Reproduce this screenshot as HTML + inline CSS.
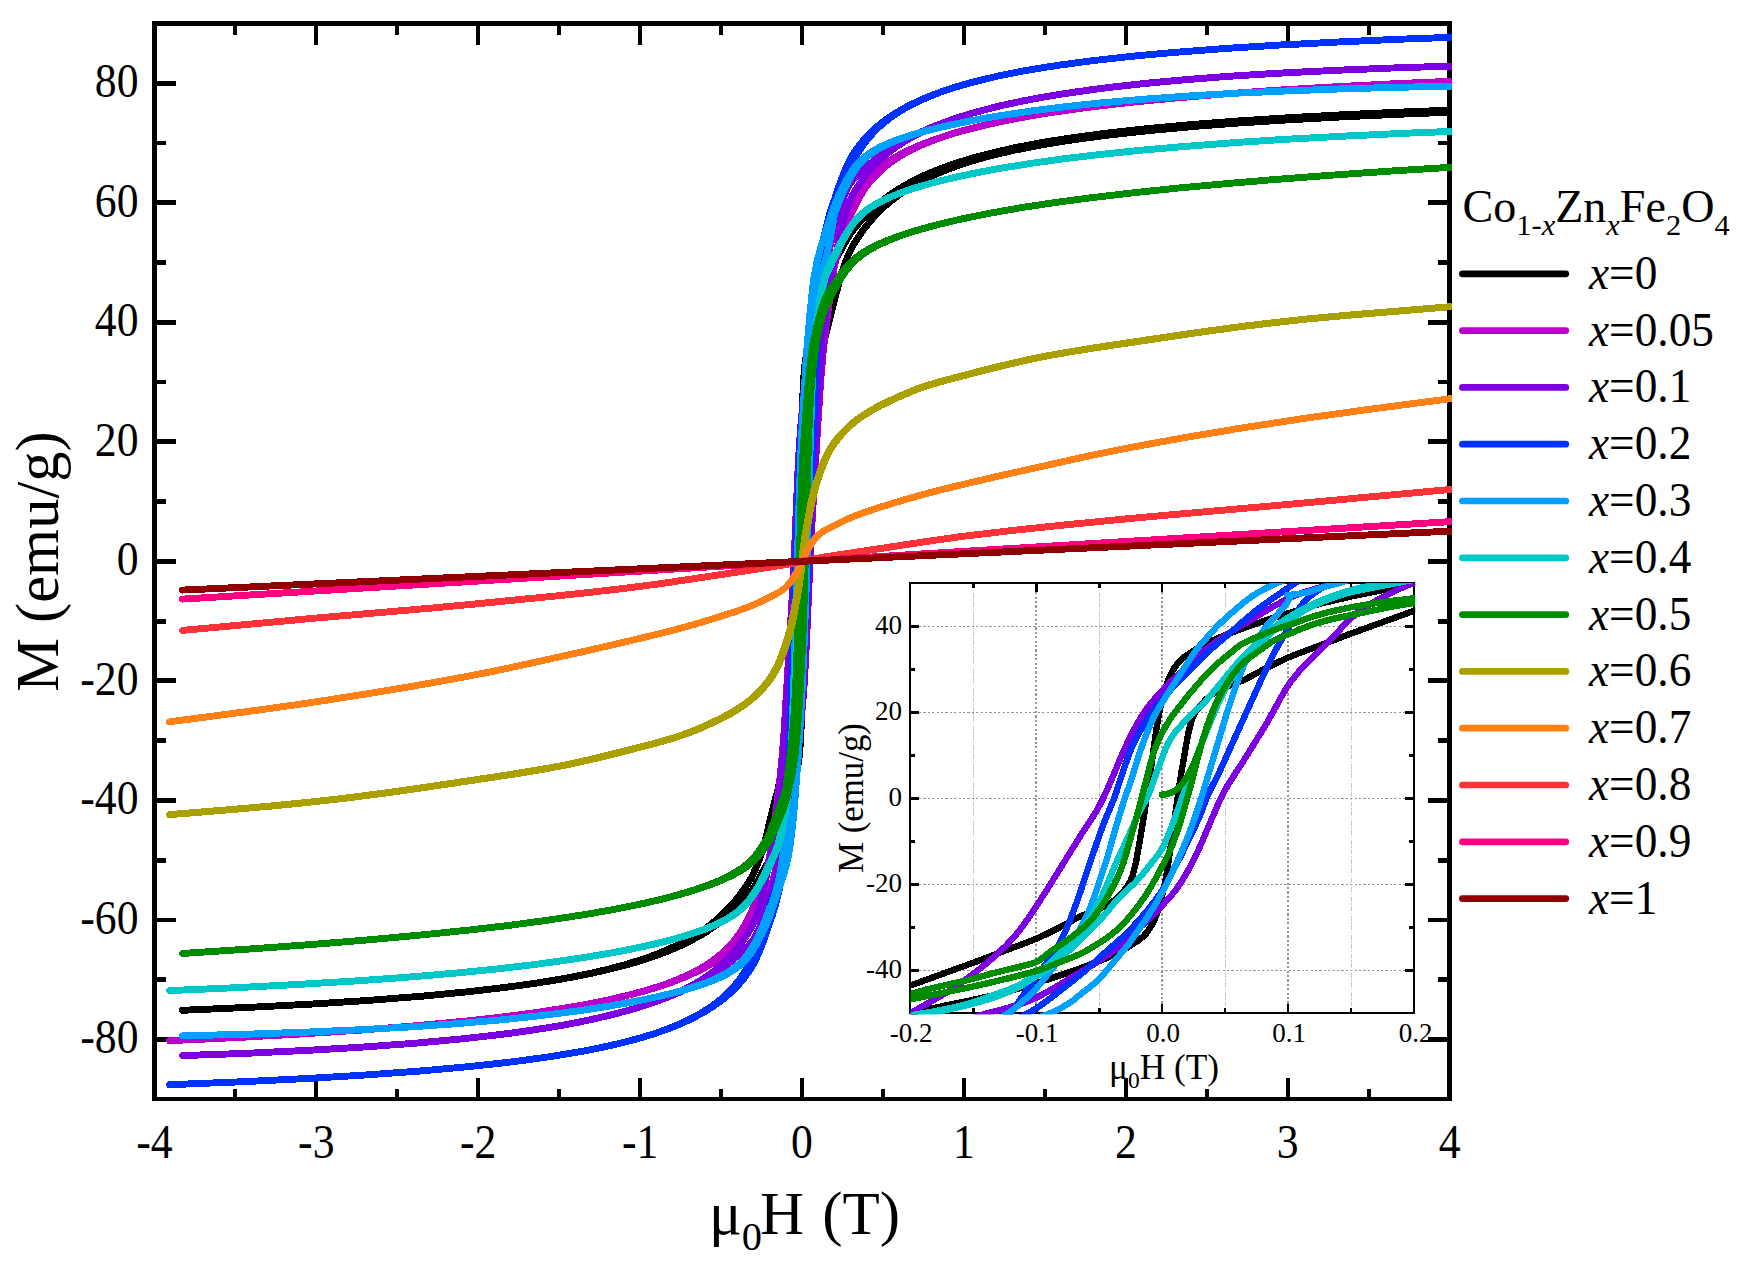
<!DOCTYPE html>
<html lang="en"><head><meta charset="utf-8"><title>M-H curves</title><style>html,body{margin:0;padding:0;background:#fff}svg{display:block}</style></head><body>
<svg width="1759" height="1276" viewBox="0 0 1759 1276">
<defs>
<clipPath id="cm"><rect x="152.1" y="21.1" width="1299.8" height="1079.6"/></clipPath>
<clipPath id="ci"><rect x="910.7" y="583.3" width="504.4" height="430.9"/></clipPath>
</defs>
<rect width="1759" height="1276" fill="#fff"/>
<g stroke="#000" fill="none" shape-rendering="crispEdges">
<path d="M154.5 1098.5V23.5H1449.5V1098.5" stroke-width="4.8" stroke-linecap="square"/>
<path d="M152.1 1099.0H1451.9" stroke-width="3.8"/>
<path d="M235.4 23.5V34.8M235.4 1099.0V1089.2M316.3 23.5V44.9M316.3 1099.0V1078.1M397.2 23.5V34.8M397.2 1099.0V1089.2M478.2 23.5V44.9M478.2 1099.0V1078.1M559.1 23.5V34.8M559.1 1099.0V1089.2M640.1 23.5V44.9M640.1 1099.0V1078.1M721.0 23.5V34.8M721.0 1099.0V1089.2M802.0 23.5V44.9M802.0 1099.0V1078.1M883.0 23.5V34.8M883.0 1099.0V1089.2M963.9 23.5V44.9M963.9 1099.0V1078.1M1044.8 23.5V34.8M1044.8 1099.0V1089.2M1125.8 23.5V44.9M1125.8 1099.0V1078.1M1206.8 23.5V34.8M1206.8 1099.0V1089.2M1287.7 23.5V44.9M1287.7 1099.0V1078.1M1368.7 23.5V34.8M1368.7 1099.0V1089.2" stroke-width="4"/>
<path d="M154.5 1039.4h21.4M1449.5 1039.4h-21.4M154.5 979.6h11.4M1449.5 979.6h-11.4M154.5 919.9h21.4M1449.5 919.9h-21.4M154.5 860.1h11.4M1449.5 860.1h-11.4M154.5 800.3h21.4M1449.5 800.3h-21.4M154.5 740.6h11.4M1449.5 740.6h-11.4M154.5 680.8h21.4M1449.5 680.8h-21.4M154.5 621.1h11.4M1449.5 621.1h-11.4M154.5 561.3h21.4M1449.5 561.3h-21.4M154.5 501.5h11.4M1449.5 501.5h-11.4M154.5 441.8h21.4M1449.5 441.8h-21.4M154.5 382.0h11.4M1449.5 382.0h-11.4M154.5 322.3h21.4M1449.5 322.3h-21.4M154.5 262.5h11.4M1449.5 262.5h-11.4M154.5 202.7h21.4M1449.5 202.7h-21.4M154.5 143.0h11.4M1449.5 143.0h-11.4M154.5 83.2h21.4M1449.5 83.2h-21.4" stroke-width="4.8"/>
</g>
<g fill="none" stroke-width="6.9" stroke-linecap="round" stroke-linejoin="round" clip-path="url(#cm)" shape-rendering="crispEdges">
<path stroke="#000000" d="M182.6 1010.3L252.4 1007.2L314.4 1003.9L368.7 1000.4L423.0 996.1L469.5 991.6L508.3 987.0L531.5 983.8L547.0 981.4L562.6 978.8L578.1 975.8L593.6 972.6L609.1 969.0L624.6 964.8L632.3 962.5L643.4 959.0L654.9 954.9L664.7 950.9L674.5 946.5L684.4 941.6L692.6 936.9L700.8 931.7L707.3 927.1L713.9 922.0L720.4 916.3L727.0 909.9L733.6 902.7L738.5 896.7L743.4 890.0L748.3 882.6L751.6 877.1L753.2 874.0L756.5 866.7L759.8 858.1L761.4 853.3L764.7 842.3L766.3 836.1L769.6 821.9L777.7 790.1L785.0 760.2L787.3 749.2L791.4 726.3L794.3 713.4L795.4 706.7L796.4 698.0L797.4 686.3L798.0 674.3L798.3 663.7L799.6 588.2L801.6 444.8L802.2 414.8L802.9 394.5L803.7 378.4L804.7 366.6L807.0 350.3L808.9 340.0L812.0 326.9L814.7 316.3L820.4 296.8L822.9 289.5L826.6 280.3L836.0 259.0L845.9 241.3L849.1 235.8L852.4 231.0L860.6 221.2L865.5 215.9L870.4 210.9L877.0 204.9L883.6 199.6L890.1 194.7L896.7 190.3L904.9 185.4L913.1 180.9L922.9 176.1L931.1 172.5L940.9 168.5L950.8 165.0L962.3 161.2L972.4 158.1L989.4 153.6L1014.9 147.7L1040.5 142.8L1057.5 140.0L1074.5 137.4L1108.5 132.9L1151.0 128.2L1193.6 124.4L1236.1 121.1L1287.2 117.8L1338.2 115.0L1397.7 112.2L1465.8 109.5M182.6 1010.3L252.4 1007.2L314.4 1003.9L368.7 1000.4L423.0 996.1L469.5 991.6L508.3 987.0L531.5 983.8L547.0 981.5L562.6 978.9L578.1 976.0L593.6 972.8L609.1 969.3L624.6 965.4L632.3 963.2L645.0 959.3L658.1 954.8L669.6 950.4L681.1 945.4L690.9 940.6L699.1 936.2L707.3 931.2L715.5 925.6L723.7 919.3L730.3 913.7L736.8 907.4L743.4 900.3L751.6 890.6L754.9 885.7L758.1 880.2L766.3 865.3L769.6 860.1L780.0 836.0L782.0 830.9L783.7 825.3L788.6 808.6L791.5 797.7L795.9 778.7L798.5 762.4L799.8 750.9L800.6 738.7L801.3 723.7L801.9 701.4L802.6 667.8L805.2 482.9L805.7 458.9L806.1 444.7L807.4 426.3L808.9 413.7L809.9 408.5L812.6 396.3L816.2 376.1L818.5 364.6L826.3 332.5L839.3 281.3L840.9 275.6L844.2 265.6L847.5 257.0L850.8 249.7L854.1 243.7L860.6 233.7L865.5 227.0L872.1 219.1L878.6 212.1L885.2 205.9L891.8 200.4L900.0 194.2L906.5 189.8L914.7 184.8L922.9 180.4L932.7 175.6L940.9 172.1L950.8 168.2L960.6 164.7L972.4 160.9L989.4 156.1L997.9 154.0L1014.9 150.1L1040.5 145.1L1057.5 142.2L1074.5 139.6L1108.5 135.1L1151.0 130.4L1193.6 126.5L1236.1 123.2L1287.2 119.9L1338.2 117.1L1397.7 114.3L1465.8 111.6" stroke-width="6" shape-rendering="geometricPrecision"/><path stroke="#000000" d="M182.6 1010.3L252.4 1007.2L314.4 1003.9L368.7 1000.4L423.0 996.1L469.5 991.6L508.3 987.0L531.5 983.8L547.0 981.4L562.6 978.8L578.1 975.8L593.6 972.6L609.1 969.0L624.6 964.8L632.3 962.5L643.4 959.0L654.9 954.9L664.7 950.9L674.5 946.5L684.4 941.6L692.6 936.9L700.8 931.7L707.3 927.1L713.9 922.0L720.4 916.3L727.0 909.9L733.6 902.7L738.5 896.7L743.4 890.0L748.3 882.6L751.6 877.1L753.2 874.0L756.5 866.7L759.8 858.1L761.4 853.3L764.7 842.3L766.3 836.1L769.6 821.9L777.7 790.1L785.0 760.2L787.3 749.2L791.4 726.3L794.3 713.4L795.4 706.7L796.4 698.0L797.4 686.3L798.0 674.3L798.3 663.7L799.6 588.2L801.6 444.8L802.2 414.8L802.9 394.5L803.7 378.4L804.7 366.6L807.0 350.3L808.9 340.0L812.0 326.9L814.7 316.3L820.4 296.8L822.9 289.5L826.6 280.3L836.0 259.0L845.9 241.3L849.1 235.8L852.4 231.0L860.6 221.2L865.5 215.9L870.4 210.9L877.0 204.9L883.6 199.6L890.1 194.7L896.7 190.3L904.9 185.4L913.1 180.9L922.9 176.1L931.1 172.5L940.9 168.5L950.8 165.0L962.3 161.2L972.4 158.1L989.4 153.6L1014.9 147.7L1040.5 142.8L1057.5 140.0L1074.5 137.4L1108.5 132.9L1151.0 128.2L1193.6 124.4L1236.1 121.1L1287.2 117.8L1338.2 115.0L1397.7 112.2L1465.8 109.5M182.6 1010.3L252.4 1007.2L314.4 1003.9L368.7 1000.4L423.0 996.1L469.5 991.6L508.3 987.0L531.5 983.8L547.0 981.5L562.6 978.9L578.1 976.0L593.6 972.8L609.1 969.3L624.6 965.4L632.3 963.2L645.0 959.3L658.1 954.8L669.6 950.4L681.1 945.4L690.9 940.6L699.1 936.2L707.3 931.2L715.5 925.6L723.7 919.3L730.3 913.7L736.8 907.4L743.4 900.3L751.6 890.6L754.9 885.7L758.1 880.2L766.3 865.3L769.6 860.1L780.0 836.0L782.0 830.9L783.7 825.3L788.6 808.6L791.5 797.7L795.9 778.7L798.5 762.4L799.8 750.9L800.6 738.7L801.3 723.7L801.9 701.4L802.6 667.8L805.2 482.9L805.7 458.9L806.1 444.7L807.4 426.3L808.9 413.7L809.9 408.5L812.6 396.3L816.2 376.1L818.5 364.6L826.3 332.5L839.3 281.3L840.9 275.6L844.2 265.6L847.5 257.0L850.8 249.7L854.1 243.7L860.6 233.7L865.5 227.0L872.1 219.1L878.6 212.1L885.2 205.9L891.8 200.4L900.0 194.2L906.5 189.8L914.7 184.8L922.9 180.4L932.7 175.6L940.9 172.1L950.8 168.2L960.6 164.7L972.4 160.9L989.4 156.1L997.9 154.0L1014.9 150.1L1040.5 145.1L1057.5 142.2L1074.5 139.6L1108.5 135.1L1151.0 130.4L1193.6 126.5L1236.1 123.2L1287.2 119.9L1338.2 117.1L1397.7 114.3L1465.8 111.6"/>
<path stroke="#B900CD" d="M169.6 1040.7L233.4 1037.7L297.2 1034.2L353.0 1030.6L408.8 1026.4L456.7 1022.0L480.6 1019.5L504.5 1016.7L528.5 1013.6L544.4 1011.3L576.3 1006.2L592.3 1003.2L608.2 999.9L632.1 994.3L645.0 990.7L656.5 987.2L668.0 983.3L677.8 979.5L687.6 975.1L695.8 971.1L704.0 966.4L710.6 962.1L717.2 957.3L723.7 951.7L728.6 946.8L733.6 941.3L738.5 934.9L741.7 930.0L745.0 924.5L748.3 918.2L751.6 911.1L756.5 898.9L759.8 889.8L763.1 879.8L766.3 869.0L769.6 857.1L771.4 841.8L774.3 823.6L776.6 807.1L779.5 782.6L782.1 756.7L783.6 738.3L785.5 708.3L793.5 574.4L797.7 475.4L799.2 447.9L800.5 429.2L803.7 393.3L806.3 367.7L807.9 353.5L810.8 332.5L815.6 302.7L817.8 289.7L819.0 284.4L820.3 279.6L822.0 274.1L824.3 267.9L825.8 263.0L834.4 229.6L839.3 219.7L845.9 207.4L850.8 198.9L855.7 191.4L859.0 187.0L863.9 181.3L868.8 176.4L873.7 172.0L880.3 166.9L886.8 162.3L893.4 158.3L901.6 153.7L909.8 149.7L918.0 146.0L927.8 142.1L937.7 138.5L949.1 134.7L960.6 131.3L972.4 128.1L980.9 126.0L997.9 122.2L1023.4 117.2L1040.5 114.2L1057.5 111.6L1091.5 106.9L1134.0 102.0L1176.6 97.9L1227.6 93.7L1278.6 90.1L1338.2 86.6L1397.7 83.6L1465.8 80.6M169.6 1040.7L241.4 1037.3L305.2 1033.7L361.0 1030.1L416.8 1025.7L464.7 1021.2L488.6 1018.6L512.5 1015.7L536.4 1012.5L552.4 1010.1L568.3 1007.6L584.3 1004.7L600.2 1001.6L616.2 998.2L632.1 994.3L641.7 991.8L653.2 988.4L664.7 984.7L676.2 980.5L686.0 976.6L695.8 972.1L704.0 968.0L712.2 963.3L720.4 958.1L727.0 953.2L733.6 947.7L740.1 941.3L745.0 935.6L749.9 928.8L756.5 918.1L763.1 906.1L769.6 893.0L778.4 859.1L779.7 854.7L783.4 844.1L785.5 836.1L788.6 818.9L793.3 789.0L795.3 775.3L797.4 757.9L800.8 724.3L803.2 697.4L804.5 680.0L806.6 640.2L810.7 545.2L817.8 424.8L820.9 377.6L823.0 353.9L825.9 327.3L829.2 302.4L832.6 280.8L834.4 265.5L839.3 248.1L842.6 237.7L845.9 228.2L849.1 219.5L852.4 211.5L855.7 204.4L859.0 198.1L862.3 192.6L865.5 187.7L868.8 183.3L872.1 179.4L875.4 175.8L880.3 170.9L885.2 166.6L890.1 162.8L896.7 158.3L903.2 154.3L909.8 150.7L918.0 146.7L926.2 143.1L936.0 139.3L945.9 135.9L955.7 132.8L963.9 130.5L980.9 126.1L1006.4 120.4L1032.0 115.7L1049.0 112.9L1066.0 110.3L1100.0 105.8L1142.5 101.1L1185.1 97.1L1227.6 93.7L1278.6 90.1L1338.2 86.6L1397.7 83.6L1465.8 80.6" stroke-width="6" shape-rendering="geometricPrecision"/><path stroke="#B900CD" d="M169.6 1040.7L233.4 1037.7L297.2 1034.2L353.0 1030.6L408.8 1026.4L456.7 1022.0L480.6 1019.5L504.5 1016.7L528.5 1013.6L544.4 1011.3L576.3 1006.2L592.3 1003.2L608.2 999.9L632.1 994.3L645.0 990.7L656.5 987.2L668.0 983.3L677.8 979.5L687.6 975.1L695.8 971.1L704.0 966.4L710.6 962.1L717.2 957.3L723.7 951.7L728.6 946.8L733.6 941.3L738.5 934.9L741.7 930.0L745.0 924.5L748.3 918.2L751.6 911.1L756.5 898.9L759.8 889.8L763.1 879.8L766.3 869.0L769.6 857.1L771.4 841.8L774.3 823.6L776.6 807.1L779.5 782.6L782.1 756.7L783.6 738.3L785.5 708.3L793.5 574.4L797.7 475.4L799.2 447.9L800.5 429.2L803.7 393.3L806.3 367.7L807.9 353.5L810.8 332.5L815.6 302.7L817.8 289.7L819.0 284.4L820.3 279.6L822.0 274.1L824.3 267.9L825.8 263.0L834.4 229.6L839.3 219.7L845.9 207.4L850.8 198.9L855.7 191.4L859.0 187.0L863.9 181.3L868.8 176.4L873.7 172.0L880.3 166.9L886.8 162.3L893.4 158.3L901.6 153.7L909.8 149.7L918.0 146.0L927.8 142.1L937.7 138.5L949.1 134.7L960.6 131.3L972.4 128.1L980.9 126.0L997.9 122.2L1023.4 117.2L1040.5 114.2L1057.5 111.6L1091.5 106.9L1134.0 102.0L1176.6 97.9L1227.6 93.7L1278.6 90.1L1338.2 86.6L1397.7 83.6L1465.8 80.6M169.6 1040.7L241.4 1037.3L305.2 1033.7L361.0 1030.1L416.8 1025.7L464.7 1021.2L488.6 1018.6L512.5 1015.7L536.4 1012.5L552.4 1010.1L568.3 1007.6L584.3 1004.7L600.2 1001.6L616.2 998.2L632.1 994.3L641.7 991.8L653.2 988.4L664.7 984.7L676.2 980.5L686.0 976.6L695.8 972.1L704.0 968.0L712.2 963.3L720.4 958.1L727.0 953.2L733.6 947.7L740.1 941.3L745.0 935.6L749.9 928.8L756.5 918.1L763.1 906.1L769.6 893.0L778.4 859.1L779.7 854.7L783.4 844.1L785.5 836.1L788.6 818.9L793.3 789.0L795.3 775.3L797.4 757.9L800.8 724.3L803.2 697.4L804.5 680.0L806.6 640.2L810.7 545.2L817.8 424.8L820.9 377.6L823.0 353.9L825.9 327.3L829.2 302.4L832.6 280.8L834.4 265.5L839.3 248.1L842.6 237.7L845.9 228.2L849.1 219.5L852.4 211.5L855.7 204.4L859.0 198.1L862.3 192.6L865.5 187.7L868.8 183.3L872.1 179.4L875.4 175.8L880.3 170.9L885.2 166.6L890.1 162.8L896.7 158.3L903.2 154.3L909.8 150.7L918.0 146.7L926.2 143.1L936.0 139.3L945.9 135.9L955.7 132.8L963.9 130.5L980.9 126.1L1006.4 120.4L1032.0 115.7L1049.0 112.9L1066.0 110.3L1100.0 105.8L1142.5 101.1L1185.1 97.1L1227.6 93.7L1278.6 90.1L1338.2 86.6L1397.7 83.6L1465.8 80.6"/>
<path stroke="#7D00E1" d="M182.6 1055.6L244.6 1053.4L306.6 1050.4L360.9 1047.2L415.2 1043.2L461.7 1038.9L485.0 1036.3L508.3 1033.5L531.5 1030.2L547.0 1027.8L562.6 1025.2L578.1 1022.3L593.6 1019.0L609.1 1015.4L624.6 1011.4L632.3 1009.2L645.0 1005.2L658.1 1000.6L669.6 996.1L679.4 991.8L689.3 986.9L697.5 982.3L705.7 977.1L713.9 971.3L720.4 965.9L727.0 959.9L733.6 952.9L738.5 947.0L741.7 942.6L745.0 937.7L748.3 932.7L751.6 926.9L754.9 919.5L756.5 915.0L759.8 904.3L761.4 898.2L764.7 884.4L769.6 860.1L774.3 831.2L777.9 804.2L780.5 781.0L782.8 756.9L784.1 739.5L786.2 706.0L793.8 574.6L798.0 473.6L799.5 445.6L800.6 428.6L803.5 394.9L807.9 352.0L811.0 328.9L817.5 287.8L818.8 280.9L820.1 275.6L822.2 268.7L825.3 259.8L829.7 242.8L837.7 215.1L842.6 200.1L845.9 191.9L849.1 185.3L850.8 182.7L854.1 178.6L865.5 167.5L875.4 159.2L883.6 153.2L891.8 147.7L900.0 142.8L908.2 138.3L918.0 133.4L927.8 128.9L937.7 124.9L949.1 120.6L960.6 116.7L972.4 113.2L980.9 110.8L997.9 106.4L1023.4 100.8L1040.5 97.6L1057.5 94.7L1091.5 89.7L1108.5 87.5L1134.0 84.6L1176.6 80.4L1227.6 76.4L1278.6 73.2L1338.2 70.2L1397.7 67.8L1465.8 65.6M182.6 1055.6L244.6 1053.4L306.6 1050.4L360.9 1047.2L415.2 1043.2L461.7 1038.9L485.0 1036.3L508.3 1033.5L531.5 1030.2L547.0 1027.8L562.6 1025.2L578.1 1022.3L593.6 1019.0L609.1 1015.4L624.6 1011.4L632.3 1009.2L646.7 1004.8L659.8 1000.2L671.3 995.8L682.7 990.8L692.6 986.0L702.4 980.8L712.2 974.9L720.4 969.4L728.6 963.4L736.8 956.6L743.4 950.5L749.9 944.0L751.6 942.1L753.2 939.9L756.5 934.2L759.8 926.8L763.1 917.8L766.3 907.5L772.9 885.0L778.9 862.3L781.8 853.9L784.2 845.8L785.9 838.5L788.3 824.2L793.3 791.5L796.1 770.6L798.0 752.5L801.3 719.0L803.2 696.1L804.4 679.8L806.5 638.2L810.2 548.0L814.7 469.9L817.7 414.2L818.8 395.7L820.3 377.3L826.3 311.1L828.2 295.4L830.6 280.2L837.7 245.3L840.9 230.6L844.2 217.9L845.9 212.4L849.1 202.8L850.8 198.8L852.4 195.4L855.7 189.7L862.3 179.9L867.2 173.4L872.1 167.7L878.6 161.0L883.6 156.6L890.1 151.3L896.7 146.5L904.9 141.3L913.1 136.6L921.3 132.4L931.1 127.9L940.9 123.8L950.8 120.2L962.3 116.3L972.4 113.2L989.4 108.6L997.9 106.4L1014.9 102.6L1040.5 97.6L1057.5 94.7L1074.5 92.1L1108.5 87.5L1151.0 82.8L1193.6 79.0L1236.1 75.8L1287.2 72.7L1338.2 70.2L1397.7 67.8L1465.8 65.6" stroke-width="6" shape-rendering="geometricPrecision"/><path stroke="#7D00E1" d="M182.6 1055.6L244.6 1053.4L306.6 1050.4L360.9 1047.2L415.2 1043.2L461.7 1038.9L485.0 1036.3L508.3 1033.5L531.5 1030.2L547.0 1027.8L562.6 1025.2L578.1 1022.3L593.6 1019.0L609.1 1015.4L624.6 1011.4L632.3 1009.2L645.0 1005.2L658.1 1000.6L669.6 996.1L679.4 991.8L689.3 986.9L697.5 982.3L705.7 977.1L713.9 971.3L720.4 965.9L727.0 959.9L733.6 952.9L738.5 947.0L741.7 942.6L745.0 937.7L748.3 932.7L751.6 926.9L754.9 919.5L756.5 915.0L759.8 904.3L761.4 898.2L764.7 884.4L769.6 860.1L774.3 831.2L777.9 804.2L780.5 781.0L782.8 756.9L784.1 739.5L786.2 706.0L793.8 574.6L798.0 473.6L799.5 445.6L800.6 428.6L803.5 394.9L807.9 352.0L811.0 328.9L817.5 287.8L818.8 280.9L820.1 275.6L822.2 268.7L825.3 259.8L829.7 242.8L837.7 215.1L842.6 200.1L845.9 191.9L849.1 185.3L850.8 182.7L854.1 178.6L865.5 167.5L875.4 159.2L883.6 153.2L891.8 147.7L900.0 142.8L908.2 138.3L918.0 133.4L927.8 128.9L937.7 124.9L949.1 120.6L960.6 116.7L972.4 113.2L980.9 110.8L997.9 106.4L1023.4 100.8L1040.5 97.6L1057.5 94.7L1091.5 89.7L1108.5 87.5L1134.0 84.6L1176.6 80.4L1227.6 76.4L1278.6 73.2L1338.2 70.2L1397.7 67.8L1465.8 65.6M182.6 1055.6L244.6 1053.4L306.6 1050.4L360.9 1047.2L415.2 1043.2L461.7 1038.9L485.0 1036.3L508.3 1033.5L531.5 1030.2L547.0 1027.8L562.6 1025.2L578.1 1022.3L593.6 1019.0L609.1 1015.4L624.6 1011.4L632.3 1009.2L646.7 1004.8L659.8 1000.2L671.3 995.8L682.7 990.8L692.6 986.0L702.4 980.8L712.2 974.9L720.4 969.4L728.6 963.4L736.8 956.6L743.4 950.5L749.9 944.0L751.6 942.1L753.2 939.9L756.5 934.2L759.8 926.8L763.1 917.8L766.3 907.5L772.9 885.0L778.9 862.3L781.8 853.9L784.2 845.8L785.9 838.5L788.3 824.2L793.3 791.5L796.1 770.6L798.0 752.5L801.3 719.0L803.2 696.1L804.4 679.8L806.5 638.2L810.2 548.0L814.7 469.9L817.7 414.2L818.8 395.7L820.3 377.3L826.3 311.1L828.2 295.4L830.6 280.2L837.7 245.3L840.9 230.6L844.2 217.9L845.9 212.4L849.1 202.8L850.8 198.8L852.4 195.4L855.7 189.7L862.3 179.9L867.2 173.4L872.1 167.7L878.6 161.0L883.6 156.6L890.1 151.3L896.7 146.5L904.9 141.3L913.1 136.6L921.3 132.4L931.1 127.9L940.9 123.8L950.8 120.2L962.3 116.3L972.4 113.2L989.4 108.6L997.9 106.4L1014.9 102.6L1040.5 97.6L1057.5 94.7L1074.5 92.1L1108.5 87.5L1151.0 82.8L1193.6 79.0L1236.1 75.8L1287.2 72.7L1338.2 70.2L1397.7 67.8L1465.8 65.6"/>
<path stroke="#0032FF" d="M169.6 1084.7L241.4 1081.8L305.2 1078.6L361.0 1075.3L416.8 1071.3L464.7 1067.0L488.6 1064.5L512.5 1061.8L536.4 1058.6L552.4 1056.3L568.3 1053.7L584.3 1050.9L600.2 1047.7L616.2 1044.2L632.1 1040.2L640.1 1038.0L651.6 1034.5L663.1 1030.6L674.5 1026.2L684.4 1021.9L694.2 1017.0L702.4 1012.3L710.6 1007.0L717.2 1002.2L723.7 996.7L730.3 990.3L735.2 984.8L740.1 978.6L745.0 971.3L749.9 962.9L753.2 956.3L758.1 944.0L761.4 934.3L764.7 923.4L769.6 904.9L771.6 900.4L773.7 894.5L779.7 874.5L781.3 867.6L782.6 859.2L788.1 776.5L789.3 753.6L790.9 710.4L794.0 612.3L795.8 564.0L797.9 497.4L798.8 474.7L800.3 448.1L803.4 407.2L807.9 357.7L814.1 300.2L819.4 260.0L821.6 248.1L824.0 236.3L826.8 224.8L829.8 213.4L832.1 206.0L834.4 199.8L839.3 185.0L842.6 176.2L845.9 168.3L849.1 161.3L852.4 155.2L855.7 150.2L860.6 143.6L865.5 137.8L870.4 132.6L875.4 128.1L880.3 123.9L886.8 118.9L893.4 114.5L901.6 109.5L909.8 105.1L918.0 101.2L927.8 96.9L937.7 93.1L949.1 89.1L960.6 85.5L972.4 82.2L980.9 80.1L997.9 76.1L1023.4 71.0L1040.5 68.1L1057.5 65.4L1091.5 60.8L1134.0 56.1L1176.6 52.2L1227.6 48.3L1278.6 45.1L1338.2 42.0L1397.7 39.3L1465.8 36.8M169.6 1084.7L241.4 1081.8L305.2 1078.6L361.0 1075.3L416.8 1071.3L464.7 1067.0L488.6 1064.5L512.5 1061.8L536.4 1058.6L552.4 1056.3L568.3 1053.7L584.3 1050.9L600.2 1047.7L616.2 1044.2L632.1 1040.2L641.7 1037.5L653.2 1034.0L664.7 1030.1L676.2 1025.7L686.0 1021.4L695.8 1016.6L704.0 1012.1L712.2 1007.0L720.4 1001.3L727.0 996.0L733.6 990.0L740.1 983.0L745.0 976.9L749.9 970.0L753.2 964.5L756.5 958.0L759.8 950.5L763.1 942.1L766.3 932.9L769.6 922.8L772.4 915.2L775.3 905.3L778.1 894.5L780.2 885.1L782.4 873.5L784.9 859.6L787.3 842.2L791.7 804.9L798.0 742.8L800.5 712.5L802.1 688.4L806.1 603.0L807.9 555.8L816.4 360.0L819.8 295.3L821.1 280.1L822.5 269.3L825.6 254.1L829.7 235.9L832.1 226.0L837.7 205.0L842.6 188.3L845.9 178.6L849.1 170.1L852.4 162.8L855.7 156.7L860.6 148.7L863.9 144.0L868.8 137.8L873.7 132.3L878.6 127.4L885.2 121.7L891.8 116.7L898.3 112.3L904.9 108.3L913.1 103.9L921.3 100.0L931.1 95.8L940.9 92.0L950.8 88.6L960.6 85.6L972.4 82.3L980.9 80.1L997.9 76.1L1023.4 71.0L1040.5 68.1L1057.5 65.4L1091.5 60.8L1134.0 56.1L1176.6 52.2L1227.6 48.3L1278.6 45.1L1338.2 42.0L1397.7 39.3L1465.8 36.8" stroke-width="6" shape-rendering="geometricPrecision"/><path stroke="#0032FF" d="M169.6 1084.7L241.4 1081.8L305.2 1078.6L361.0 1075.3L416.8 1071.3L464.7 1067.0L488.6 1064.5L512.5 1061.8L536.4 1058.6L552.4 1056.3L568.3 1053.7L584.3 1050.9L600.2 1047.7L616.2 1044.2L632.1 1040.2L640.1 1038.0L651.6 1034.5L663.1 1030.6L674.5 1026.2L684.4 1021.9L694.2 1017.0L702.4 1012.3L710.6 1007.0L717.2 1002.2L723.7 996.7L730.3 990.3L735.2 984.8L740.1 978.6L745.0 971.3L749.9 962.9L753.2 956.3L758.1 944.0L761.4 934.3L764.7 923.4L769.6 904.9L771.6 900.4L773.7 894.5L779.7 874.5L781.3 867.6L782.6 859.2L788.1 776.5L789.3 753.6L790.9 710.4L794.0 612.3L795.8 564.0L797.9 497.4L798.8 474.7L800.3 448.1L803.4 407.2L807.9 357.7L814.1 300.2L819.4 260.0L821.6 248.1L824.0 236.3L826.8 224.8L829.8 213.4L832.1 206.0L834.4 199.8L839.3 185.0L842.6 176.2L845.9 168.3L849.1 161.3L852.4 155.2L855.7 150.2L860.6 143.6L865.5 137.8L870.4 132.6L875.4 128.1L880.3 123.9L886.8 118.9L893.4 114.5L901.6 109.5L909.8 105.1L918.0 101.2L927.8 96.9L937.7 93.1L949.1 89.1L960.6 85.5L972.4 82.2L980.9 80.1L997.9 76.1L1023.4 71.0L1040.5 68.1L1057.5 65.4L1091.5 60.8L1134.0 56.1L1176.6 52.2L1227.6 48.3L1278.6 45.1L1338.2 42.0L1397.7 39.3L1465.8 36.8M169.6 1084.7L241.4 1081.8L305.2 1078.6L361.0 1075.3L416.8 1071.3L464.7 1067.0L488.6 1064.5L512.5 1061.8L536.4 1058.6L552.4 1056.3L568.3 1053.7L584.3 1050.9L600.2 1047.7L616.2 1044.2L632.1 1040.2L641.7 1037.5L653.2 1034.0L664.7 1030.1L676.2 1025.7L686.0 1021.4L695.8 1016.6L704.0 1012.1L712.2 1007.0L720.4 1001.3L727.0 996.0L733.6 990.0L740.1 983.0L745.0 976.9L749.9 970.0L753.2 964.5L756.5 958.0L759.8 950.5L763.1 942.1L766.3 932.9L769.6 922.8L772.4 915.2L775.3 905.3L778.1 894.5L780.2 885.1L782.4 873.5L784.9 859.6L787.3 842.2L791.7 804.9L798.0 742.8L800.5 712.5L802.1 688.4L806.1 603.0L807.9 555.8L816.4 360.0L819.8 295.3L821.1 280.1L822.5 269.3L825.6 254.1L829.7 235.9L832.1 226.0L837.7 205.0L842.6 188.3L845.9 178.6L849.1 170.1L852.4 162.8L855.7 156.7L860.6 148.7L863.9 144.0L868.8 137.8L873.7 132.3L878.6 127.4L885.2 121.7L891.8 116.7L898.3 112.3L904.9 108.3L913.1 103.9L921.3 100.0L931.1 95.8L940.9 92.0L950.8 88.6L960.6 85.6L972.4 82.3L980.9 80.1L997.9 76.1L1023.4 71.0L1040.5 68.1L1057.5 65.4L1091.5 60.8L1134.0 56.1L1176.6 52.2L1227.6 48.3L1278.6 45.1L1338.2 42.0L1397.7 39.3L1465.8 36.8"/>
<path stroke="#00A0FF" d="M182.6 1035.8L244.6 1034.3L306.6 1032.1L360.9 1029.7L407.5 1027.1L454.0 1023.9L500.5 1019.9L539.3 1015.8L578.1 1010.9L601.3 1007.4L616.8 1004.8L645.0 999.4L659.8 996.2L672.9 993.0L684.4 989.8L695.8 986.3L705.7 982.8L713.9 979.5L720.4 976.4L727.0 972.8L733.6 968.5L738.5 964.5L743.4 959.7L746.7 955.8L751.6 948.5L754.9 942.7L758.1 936.2L763.1 925.2L766.3 916.9L769.6 907.9L771.6 904.2L773.7 898.4L777.9 883.3L780.3 871.7L782.6 857.4L784.7 838.0L786.2 821.5L789.4 776.9L791.0 750.9L792.3 724.4L794.6 655.7L799.2 496.9L801.3 441.4L805.8 364.5L807.0 348.0L809.9 314.0L812.8 286.8L813.9 278.0L816.9 261.9L820.3 248.8L829.8 218.7L834.4 205.7L836.0 201.8L840.9 190.9L844.2 184.3L847.5 178.3L852.4 170.3L855.7 165.8L859.0 162.0L862.3 158.8L867.2 154.8L872.1 151.5L878.6 147.7L885.2 144.6L893.4 141.2L903.2 137.7L913.1 134.5L924.6 131.3L937.7 127.9L950.8 124.9L963.9 122.1L980.9 118.9L997.9 116.0L1032.0 110.9L1066.0 106.6L1100.0 103.0L1142.5 99.3L1185.1 96.2L1236.1 93.2L1287.2 90.9L1346.7 88.7L1406.2 87.1L1465.8 86.0M182.6 1035.8L244.6 1034.3L306.6 1032.1L360.9 1029.7L407.5 1027.1L454.0 1023.9L500.5 1019.9L539.3 1015.8L578.1 1010.9L609.1 1006.1L624.6 1003.4L643.4 999.8L658.1 996.6L671.3 993.5L684.4 990.0L695.8 986.6L705.7 983.2L713.9 980.1L722.1 976.5L728.6 973.1L735.2 969.0L740.1 965.3L745.0 960.6L748.3 956.8L751.6 952.3L756.5 944.3L761.4 935.1L766.3 924.6L769.6 916.9L771.1 912.7L782.1 879.7L785.8 867.4L788.4 856.4L790.3 844.4L793.3 819.0L794.7 802.6L797.7 764.4L800.6 718.1L802.6 680.5L804.5 635.0L806.1 590.9L810.4 439.4L812.3 383.3L815.0 328.5L818.1 288.2L818.5 281.0L818.1 278.6L818.8 278.3L819.4 277.6L820.6 275.4L822.5 268.5L825.2 260.7L827.6 251.1L829.9 240.4L832.2 228.0L834.4 214.7L837.7 205.7L840.9 197.4L844.2 189.9L847.5 183.1L852.4 174.1L855.7 169.0L859.0 164.7L862.3 161.1L865.5 158.1L870.4 154.1L875.4 150.8L881.9 147.0L888.5 143.9L896.7 140.4L906.5 136.9L916.4 133.7L927.8 130.5L939.3 127.6L963.9 122.2L980.9 118.9L997.9 116.0L1032.0 110.9L1066.0 106.6L1100.0 103.0L1142.5 99.3L1185.1 96.2L1236.1 93.2L1287.2 90.9L1346.7 88.7L1406.2 87.1L1465.8 86.0" stroke-width="6" shape-rendering="geometricPrecision"/><path stroke="#00A0FF" d="M182.6 1035.8L244.6 1034.3L306.6 1032.1L360.9 1029.7L407.5 1027.1L454.0 1023.9L500.5 1019.9L539.3 1015.8L578.1 1010.9L601.3 1007.4L616.8 1004.8L645.0 999.4L659.8 996.2L672.9 993.0L684.4 989.8L695.8 986.3L705.7 982.8L713.9 979.5L720.4 976.4L727.0 972.8L733.6 968.5L738.5 964.5L743.4 959.7L746.7 955.8L751.6 948.5L754.9 942.7L758.1 936.2L763.1 925.2L766.3 916.9L769.6 907.9L771.6 904.2L773.7 898.4L777.9 883.3L780.3 871.7L782.6 857.4L784.7 838.0L786.2 821.5L789.4 776.9L791.0 750.9L792.3 724.4L794.6 655.7L799.2 496.9L801.3 441.4L805.8 364.5L807.0 348.0L809.9 314.0L812.8 286.8L813.9 278.0L816.9 261.9L820.3 248.8L829.8 218.7L834.4 205.7L836.0 201.8L840.9 190.9L844.2 184.3L847.5 178.3L852.4 170.3L855.7 165.8L859.0 162.0L862.3 158.8L867.2 154.8L872.1 151.5L878.6 147.7L885.2 144.6L893.4 141.2L903.2 137.7L913.1 134.5L924.6 131.3L937.7 127.9L950.8 124.9L963.9 122.1L980.9 118.9L997.9 116.0L1032.0 110.9L1066.0 106.6L1100.0 103.0L1142.5 99.3L1185.1 96.2L1236.1 93.2L1287.2 90.9L1346.7 88.7L1406.2 87.1L1465.8 86.0M182.6 1035.8L244.6 1034.3L306.6 1032.1L360.9 1029.7L407.5 1027.1L454.0 1023.9L500.5 1019.9L539.3 1015.8L578.1 1010.9L609.1 1006.1L624.6 1003.4L643.4 999.8L658.1 996.6L671.3 993.5L684.4 990.0L695.8 986.6L705.7 983.2L713.9 980.1L722.1 976.5L728.6 973.1L735.2 969.0L740.1 965.3L745.0 960.6L748.3 956.8L751.6 952.3L756.5 944.3L761.4 935.1L766.3 924.6L769.6 916.9L771.1 912.7L782.1 879.7L785.8 867.4L788.4 856.4L790.3 844.4L793.3 819.0L794.7 802.6L797.7 764.4L800.6 718.1L802.6 680.5L804.5 635.0L806.1 590.9L810.4 439.4L812.3 383.3L815.0 328.5L818.1 288.2L818.5 281.0L818.1 278.6L818.8 278.3L819.4 277.6L820.6 275.4L822.5 268.5L825.2 260.7L827.6 251.1L829.9 240.4L832.2 228.0L834.4 214.7L837.7 205.7L840.9 197.4L844.2 189.9L847.5 183.1L852.4 174.1L855.7 169.0L859.0 164.7L862.3 161.1L865.5 158.1L870.4 154.1L875.4 150.8L881.9 147.0L888.5 143.9L896.7 140.4L906.5 136.9L916.4 133.7L927.8 130.5L939.3 127.6L963.9 122.2L980.9 118.9L997.9 116.0L1032.0 110.9L1066.0 106.6L1100.0 103.0L1142.5 99.3L1185.1 96.2L1236.1 93.2L1287.2 90.9L1346.7 88.7L1406.2 87.1L1465.8 86.0"/>
<path stroke="#00C8C8" d="M169.6 990.6L233.4 987.8L297.2 984.5L353.0 981.1L408.8 977.1L456.7 973.0L496.6 969.0L536.4 964.3L576.3 958.7L608.2 953.5L624.2 950.5L641.7 946.9L656.5 943.5L669.6 940.2L681.1 937.0L692.6 933.4L702.4 930.0L710.6 926.7L718.8 923.1L725.4 919.7L731.9 915.7L736.8 912.2L741.7 908.1L746.7 903.0L749.9 898.9L753.2 894.2L756.5 889.0L759.8 883.3L764.7 873.8L769.6 863.1L773.2 856.7L775.3 851.9L778.1 843.8L782.6 826.0L784.2 817.3L786.2 803.3L788.1 784.6L790.9 753.7L792.3 733.2L793.6 710.3L798.8 586.3L800.3 555.6L802.6 489.7L803.4 473.9L804.7 457.6L807.8 424.5L812.0 369.5L814.7 339.3L816.9 319.8L820.3 297.3L821.9 289.1L823.5 282.0L825.5 274.7L827.1 269.9L829.3 264.6L832.6 258.9L840.9 242.4L844.2 236.7L849.1 228.9L852.4 224.2L855.7 220.0L859.0 216.5L862.3 213.4L865.5 210.7L870.4 207.2L877.0 203.3L883.6 199.9L891.8 196.3L900.0 193.1L909.8 189.6L919.6 186.5L931.1 183.3L942.6 180.3L957.3 176.8L972.4 173.6L997.9 168.7L1032.0 163.2L1066.0 158.5L1100.0 154.5L1142.5 150.1L1185.1 146.4L1236.1 142.5L1287.2 139.2L1346.7 136.0L1406.2 133.2L1465.8 130.8M169.6 990.6L233.4 987.8L297.2 984.5L353.0 981.1L408.8 977.1L456.7 973.0L496.6 969.0L536.4 964.3L576.3 958.7L608.2 953.5L624.2 950.5L640.1 947.2L654.9 943.9L668.0 940.6L679.4 937.5L690.9 934.0L700.8 930.7L710.6 926.9L718.8 923.3L725.4 920.0L731.9 916.2L736.8 912.8L741.7 908.9L746.7 904.0L749.9 900.1L753.2 895.6L758.1 887.9L761.4 882.3L766.3 872.9L770.4 864.4L776.4 850.4L779.8 840.2L782.6 829.1L784.1 821.0L787.5 797.6L790.4 769.6L794.3 727.2L796.1 704.6L799.0 673.2L801.4 640.6L802.2 626.3L803.2 601.4L806.6 497.6L808.6 445.9L810.7 398.7L813.0 365.5L816.0 331.4L817.0 323.2L820.7 297.6L823.3 285.0L825.0 279.0L826.6 274.3L837.7 250.7L842.6 241.1L845.9 235.4L849.1 230.1L852.4 225.2L855.7 220.9L859.0 217.2L862.3 214.0L865.5 211.3L870.4 207.7L877.0 203.6L883.6 200.2L890.1 197.1L898.3 193.8L908.2 190.2L918.0 187.1L929.5 183.7L940.9 180.7L963.9 175.4L980.9 171.9L997.9 168.7L1032.0 163.2L1066.0 158.5L1100.0 154.5L1142.5 150.1L1185.1 146.4L1236.1 142.5L1287.2 139.2L1346.7 136.0L1406.2 133.2L1465.8 130.8" stroke-width="6" shape-rendering="geometricPrecision"/><path stroke="#00C8C8" d="M169.6 990.6L233.4 987.8L297.2 984.5L353.0 981.1L408.8 977.1L456.7 973.0L496.6 969.0L536.4 964.3L576.3 958.7L608.2 953.5L624.2 950.5L641.7 946.9L656.5 943.5L669.6 940.2L681.1 937.0L692.6 933.4L702.4 930.0L710.6 926.7L718.8 923.1L725.4 919.7L731.9 915.7L736.8 912.2L741.7 908.1L746.7 903.0L749.9 898.9L753.2 894.2L756.5 889.0L759.8 883.3L764.7 873.8L769.6 863.1L773.2 856.7L775.3 851.9L778.1 843.8L782.6 826.0L784.2 817.3L786.2 803.3L788.1 784.6L790.9 753.7L792.3 733.2L793.6 710.3L798.8 586.3L800.3 555.6L802.6 489.7L803.4 473.9L804.7 457.6L807.8 424.5L812.0 369.5L814.7 339.3L816.9 319.8L820.3 297.3L821.9 289.1L823.5 282.0L825.5 274.7L827.1 269.9L829.3 264.6L832.6 258.9L840.9 242.4L844.2 236.7L849.1 228.9L852.4 224.2L855.7 220.0L859.0 216.5L862.3 213.4L865.5 210.7L870.4 207.2L877.0 203.3L883.6 199.9L891.8 196.3L900.0 193.1L909.8 189.6L919.6 186.5L931.1 183.3L942.6 180.3L957.3 176.8L972.4 173.6L997.9 168.7L1032.0 163.2L1066.0 158.5L1100.0 154.5L1142.5 150.1L1185.1 146.4L1236.1 142.5L1287.2 139.2L1346.7 136.0L1406.2 133.2L1465.8 130.8M169.6 990.6L233.4 987.8L297.2 984.5L353.0 981.1L408.8 977.1L456.7 973.0L496.6 969.0L536.4 964.3L576.3 958.7L608.2 953.5L624.2 950.5L640.1 947.2L654.9 943.9L668.0 940.6L679.4 937.5L690.9 934.0L700.8 930.7L710.6 926.9L718.8 923.3L725.4 920.0L731.9 916.2L736.8 912.8L741.7 908.9L746.7 904.0L749.9 900.1L753.2 895.6L758.1 887.9L761.4 882.3L766.3 872.9L770.4 864.4L776.4 850.4L779.8 840.2L782.6 829.1L784.1 821.0L787.5 797.6L790.4 769.6L794.3 727.2L796.1 704.6L799.0 673.2L801.4 640.6L802.2 626.3L803.2 601.4L806.6 497.6L808.6 445.9L810.7 398.7L813.0 365.5L816.0 331.4L817.0 323.2L820.7 297.6L823.3 285.0L825.0 279.0L826.6 274.3L837.7 250.7L842.6 241.1L845.9 235.4L849.1 230.1L852.4 225.2L855.7 220.9L859.0 217.2L862.3 214.0L865.5 211.3L870.4 207.7L877.0 203.6L883.6 200.2L890.1 197.1L898.3 193.8L908.2 190.2L918.0 187.1L929.5 183.7L940.9 180.7L963.9 175.4L980.9 171.9L997.9 168.7L1032.0 163.2L1066.0 158.5L1100.0 154.5L1142.5 150.1L1185.1 146.4L1236.1 142.5L1287.2 139.2L1346.7 136.0L1406.2 133.2L1465.8 130.8"/>
<path stroke="#008C00" d="M182.6 953.5L252.4 948.8L314.4 944.3L368.7 939.8L423.0 934.8L469.5 930.0L508.3 925.5L547.0 920.3L585.8 914.4L616.8 908.9L632.3 905.8L648.3 902.3L661.4 899.2L674.5 895.8L686.0 892.5L695.8 889.4L705.7 886.0L715.5 882.2L723.7 878.6L730.3 875.2L736.8 871.4L741.7 868.2L746.7 864.3L751.6 859.8L754.9 856.2L759.8 849.8L764.7 842.4L768.0 836.8L769.6 833.8L772.1 826.3L777.7 812.2L780.5 804.0L784.7 792.9L785.9 788.8L790.7 751.5L792.5 734.8L793.5 723.2L795.1 696.1L796.4 668.6L797.4 639.2L800.8 502.3L802.4 462.4L804.2 434.3L807.6 390.5L809.5 370.3L811.7 351.5L812.6 345.0L816.2 328.1L821.2 309.4L824.2 300.7L825.9 296.7L827.9 292.9L830.8 288.1L834.4 283.4L840.9 273.7L844.2 269.4L847.5 265.5L850.8 262.1L854.1 259.1L859.0 255.2L863.9 252.0L870.4 248.2L877.0 244.9L885.2 241.3L893.4 238.1L903.2 234.6L913.1 231.5L924.6 228.1L936.0 225.0L960.6 219.2L989.4 213.3L1023.4 207.3L1057.5 202.2L1091.5 197.7L1134.0 192.7L1176.6 188.2L1227.6 183.5L1278.6 179.2L1338.2 174.7L1397.7 170.6L1465.8 166.4M182.6 953.5L252.4 948.8L314.4 944.3L368.7 939.8L423.0 934.8L469.5 930.0L508.3 925.5L547.0 920.3L585.8 914.4L616.8 908.9L632.3 905.8L648.3 902.4L661.4 899.3L674.5 895.9L686.0 892.7L697.5 889.1L707.3 885.8L717.2 882.1L725.4 878.6L733.6 874.7L740.1 871.1L745.0 867.9L749.9 864.2L754.9 859.7L758.1 856.2L761.4 852.3L764.7 848.1L769.6 841.0L777.6 823.4L783.4 808.6L786.3 799.7L791.2 779.1L793.8 763.3L795.3 752.6L797.4 731.5L799.5 702.7L800.9 677.7L802.9 637.1L804.4 594.2L807.6 466.6L808.6 438.3L809.7 413.1L811.0 390.9L812.3 374.7L813.6 362.9L816.5 341.4L820.4 323.6L822.0 317.7L823.5 313.1L831.3 295.6L837.7 284.0L840.9 278.5L844.2 273.5L849.1 267.0L852.4 263.3L855.7 260.1L860.6 256.0L863.9 253.6L868.8 250.4L875.4 246.7L881.9 243.4L890.1 239.8L898.3 236.6L908.2 233.2L918.0 230.1L939.3 224.2L962.3 218.8L989.4 213.3L1023.4 207.3L1057.5 202.2L1091.5 197.7L1134.0 192.7L1176.6 188.2L1227.6 183.5L1278.6 179.2L1338.2 174.7L1397.7 170.6L1465.8 166.4M802.0 556.5L802.5 555.9L803.1 554.1L803.8 550.1L804.6 541.7L805.3 530.5L806.7 497.3L808.9 430.4" stroke-width="6" shape-rendering="geometricPrecision"/><path stroke="#008C00" d="M182.6 953.5L252.4 948.8L314.4 944.3L368.7 939.8L423.0 934.8L469.5 930.0L508.3 925.5L547.0 920.3L585.8 914.4L616.8 908.9L632.3 905.8L648.3 902.3L661.4 899.2L674.5 895.8L686.0 892.5L695.8 889.4L705.7 886.0L715.5 882.2L723.7 878.6L730.3 875.2L736.8 871.4L741.7 868.2L746.7 864.3L751.6 859.8L754.9 856.2L759.8 849.8L764.7 842.4L768.0 836.8L769.6 833.8L772.1 826.3L777.7 812.2L780.5 804.0L784.7 792.9L785.9 788.8L790.7 751.5L792.5 734.8L793.5 723.2L795.1 696.1L796.4 668.6L797.4 639.2L800.8 502.3L802.4 462.4L804.2 434.3L807.6 390.5L809.5 370.3L811.7 351.5L812.6 345.0L816.2 328.1L821.2 309.4L824.2 300.7L825.9 296.7L827.9 292.9L830.8 288.1L834.4 283.4L840.9 273.7L844.2 269.4L847.5 265.5L850.8 262.1L854.1 259.1L859.0 255.2L863.9 252.0L870.4 248.2L877.0 244.9L885.2 241.3L893.4 238.1L903.2 234.6L913.1 231.5L924.6 228.1L936.0 225.0L960.6 219.2L989.4 213.3L1023.4 207.3L1057.5 202.2L1091.5 197.7L1134.0 192.7L1176.6 188.2L1227.6 183.5L1278.6 179.2L1338.2 174.7L1397.7 170.6L1465.8 166.4M182.6 953.5L252.4 948.8L314.4 944.3L368.7 939.8L423.0 934.8L469.5 930.0L508.3 925.5L547.0 920.3L585.8 914.4L616.8 908.9L632.3 905.8L648.3 902.4L661.4 899.3L674.5 895.9L686.0 892.7L697.5 889.1L707.3 885.8L717.2 882.1L725.4 878.6L733.6 874.7L740.1 871.1L745.0 867.9L749.9 864.2L754.9 859.7L758.1 856.2L761.4 852.3L764.7 848.1L769.6 841.0L777.6 823.4L783.4 808.6L786.3 799.7L791.2 779.1L793.8 763.3L795.3 752.6L797.4 731.5L799.5 702.7L800.9 677.7L802.9 637.1L804.4 594.2L807.6 466.6L808.6 438.3L809.7 413.1L811.0 390.9L812.3 374.7L813.6 362.9L816.5 341.4L820.4 323.6L822.0 317.7L823.5 313.1L831.3 295.6L837.7 284.0L840.9 278.5L844.2 273.5L849.1 267.0L852.4 263.3L855.7 260.1L860.6 256.0L863.9 253.6L868.8 250.4L875.4 246.7L881.9 243.4L890.1 239.8L898.3 236.6L908.2 233.2L918.0 230.1L939.3 224.2L962.3 218.8L989.4 213.3L1023.4 207.3L1057.5 202.2L1091.5 197.7L1134.0 192.7L1176.6 188.2L1227.6 183.5L1278.6 179.2L1338.2 174.7L1397.7 170.6L1465.8 166.4M802.0 556.5L802.5 555.9L803.1 554.1L803.8 550.1L804.6 541.7L805.3 530.5L806.7 497.3L808.9 430.4"/>
<path stroke="#AAA000" d="M169.6 814.6L232.4 809.4L274.3 805.7L309.2 802.2L344.1 798.3L386.0 792.8L427.9 786.9L511.6 774.3L546.5 768.5L567.5 764.5L595.4 758.3L616.3 753.1L651.2 744.2L672.2 738.3L686.1 733.6L700.1 728.0L707.1 724.9L721.0 718.2L730.8 713.1L740.5 707.0L748.7 701.1L755.7 695.0L762.2 688.3L768.7 680.2L773.0 673.7L775.7 668.8L777.9 664.5L781.7 655.3L784.9 646.1L788.2 635.7L790.4 627.7L792.5 618.2L796.9 594.3L798.5 584.4L805.0 535.3L809.9 507.8L811.5 499.9L815.3 485.4L819.6 472.1L823.9 460.8L826.1 456.1L828.8 451.0L831.5 446.5L834.2 442.5L838.0 437.6L841.8 433.2L845.6 429.3L849.9 425.2L854.3 421.5L858.6 418.3L868.3 411.8L879.2 405.8L897.7 396.9L912.4 390.7L919.7 387.9L927.1 385.4L941.8 381.1L978.6 371.5L1008.0 364.2L1030.1 359.2L1044.8 356.2L1066.9 352.3L1096.3 347.5L1169.9 336.5L1206.7 331.2L1243.5 326.2L1272.9 322.7L1309.7 318.7L1346.5 315.3L1464.2 305.5M169.6 814.7L232.4 809.5L274.3 805.8L309.2 802.3L344.1 798.4L386.0 793.0L427.9 787.0L511.6 774.5L546.5 768.7L567.5 764.7L595.4 758.5L616.3 753.4L651.2 744.4L672.2 738.6L686.1 734.0L700.1 728.4L707.1 725.3L721.0 718.7L731.9 713.0L741.6 707.0L749.7 701.1L756.8 694.9L763.3 688.2L769.8 680.1L774.1 673.5L776.8 668.6L779.0 664.2L782.8 655.0L786.6 644.1L789.3 635.3L791.4 627.2L793.6 617.7L797.9 593.7L799.6 583.7L806.1 534.6L810.9 507.2L812.6 499.4L816.3 485.0L821.2 470.2L825.6 459.3L829.9 450.8L832.6 446.3L835.3 442.4L839.1 437.5L842.9 433.1L846.7 429.2L851.0 425.1L855.3 421.5L859.7 418.2L869.4 411.8L879.7 406.0L897.7 397.4L912.4 391.1L919.7 388.3L927.1 385.7L941.8 381.4L978.6 371.8L1008.0 364.5L1030.1 359.4L1044.8 356.4L1066.9 352.4L1089.0 348.8L1199.3 332.4L1236.1 327.3L1272.9 322.8L1309.7 318.8L1346.5 315.4L1464.2 305.6" stroke-width="6" shape-rendering="geometricPrecision"/><path stroke="#AAA000" d="M169.6 814.6L232.4 809.4L274.3 805.7L309.2 802.2L344.1 798.3L386.0 792.8L427.9 786.9L511.6 774.3L546.5 768.5L567.5 764.5L595.4 758.3L616.3 753.1L651.2 744.2L672.2 738.3L686.1 733.6L700.1 728.0L707.1 724.9L721.0 718.2L730.8 713.1L740.5 707.0L748.7 701.1L755.7 695.0L762.2 688.3L768.7 680.2L773.0 673.7L775.7 668.8L777.9 664.5L781.7 655.3L784.9 646.1L788.2 635.7L790.4 627.7L792.5 618.2L796.9 594.3L798.5 584.4L805.0 535.3L809.9 507.8L811.5 499.9L815.3 485.4L819.6 472.1L823.9 460.8L826.1 456.1L828.8 451.0L831.5 446.5L834.2 442.5L838.0 437.6L841.8 433.2L845.6 429.3L849.9 425.2L854.3 421.5L858.6 418.3L868.3 411.8L879.2 405.8L897.7 396.9L912.4 390.7L919.7 387.9L927.1 385.4L941.8 381.1L978.6 371.5L1008.0 364.2L1030.1 359.2L1044.8 356.2L1066.9 352.3L1096.3 347.5L1169.9 336.5L1206.7 331.2L1243.5 326.2L1272.9 322.7L1309.7 318.7L1346.5 315.3L1464.2 305.5M169.6 814.7L232.4 809.5L274.3 805.8L309.2 802.3L344.1 798.4L386.0 793.0L427.9 787.0L511.6 774.5L546.5 768.7L567.5 764.7L595.4 758.5L616.3 753.4L651.2 744.4L672.2 738.6L686.1 734.0L700.1 728.4L707.1 725.3L721.0 718.7L731.9 713.0L741.6 707.0L749.7 701.1L756.8 694.9L763.3 688.2L769.8 680.1L774.1 673.5L776.8 668.6L779.0 664.2L782.8 655.0L786.6 644.1L789.3 635.3L791.4 627.2L793.6 617.7L797.9 593.7L799.6 583.7L806.1 534.6L810.9 507.2L812.6 499.4L816.3 485.0L821.2 470.2L825.6 459.3L829.9 450.8L832.6 446.3L835.3 442.4L839.1 437.5L842.9 433.1L846.7 429.2L851.0 425.1L855.3 421.5L859.7 418.2L869.4 411.8L879.7 406.0L897.7 397.4L912.4 391.1L919.7 388.3L927.1 385.7L941.8 381.4L978.6 371.8L1008.0 364.5L1030.1 359.4L1044.8 356.4L1066.9 352.4L1089.0 348.8L1199.3 332.4L1236.1 327.3L1272.9 322.8L1309.7 318.8L1346.5 315.4L1464.2 305.6"/>
<path stroke="#FF8014" d="M169.6 721.8L260.4 709.8L295.3 704.9L323.2 700.7L365.1 694.1L400.0 688.4L434.9 682.3L469.8 675.9L490.7 671.8L518.6 665.9L581.4 652.0L616.3 644.0L651.2 635.7L672.2 630.5L693.1 624.7L707.1 620.6L735.1 611.7L744.3 608.5L752.5 605.3L760.0 602.0L775.7 594.1L779.5 592.0L782.8 589.8L785.5 587.5L788.7 584.1L790.9 581.5L793.6 577.5L797.9 570.0L806.6 551.6L809.9 546.0L812.6 541.8L815.8 537.9L819.1 534.6L822.3 532.0L826.1 529.6L841.3 522.0L847.8 518.9L855.9 515.6L865.6 512.0L883.0 506.3L905.0 499.6L927.1 493.4L941.8 489.6L971.2 482.5L1000.7 475.6L1089.0 455.9L1125.7 448.4L1177.2 438.9L1236.1 428.9L1302.3 418.7L1361.2 410.4L1464.2 396.9" stroke-width="6" shape-rendering="geometricPrecision"/><path stroke="#FF8014" d="M169.6 721.8L260.4 709.8L295.3 704.9L323.2 700.7L365.1 694.1L400.0 688.4L434.9 682.3L469.8 675.9L490.7 671.8L518.6 665.9L581.4 652.0L616.3 644.0L651.2 635.7L672.2 630.5L693.1 624.7L707.1 620.6L735.1 611.7L744.3 608.5L752.5 605.3L760.0 602.0L775.7 594.1L779.5 592.0L782.8 589.8L785.5 587.5L788.7 584.1L790.9 581.5L793.6 577.5L797.9 570.0L806.6 551.6L809.9 546.0L812.6 541.8L815.8 537.9L819.1 534.6L822.3 532.0L826.1 529.6L841.3 522.0L847.8 518.9L855.9 515.6L865.6 512.0L883.0 506.3L905.0 499.6L927.1 493.4L941.8 489.6L971.2 482.5L1000.7 475.6L1089.0 455.9L1125.7 448.4L1177.2 438.9L1236.1 428.9L1302.3 418.7L1361.2 410.4L1464.2 396.9"/>
<path stroke="#FF3237" d="M182.6 630.4L318.9 617.8L428.0 608.4L468.9 604.6L557.5 595.8L591.5 592.2L625.6 588.2L646.1 585.6L666.5 582.8L772.5 566.8L787.7 564.2L814.2 558.8L825.6 556.8L934.5 540.3L963.9 536.2L1015.4 530.1L1066.9 524.7L1140.5 517.5L1287.6 504.5L1464.2 488.2" stroke-width="6" shape-rendering="geometricPrecision"/><path stroke="#FF3237" d="M182.6 630.4L318.9 617.8L428.0 608.4L468.9 604.6L557.5 595.8L591.5 592.2L625.6 588.2L646.1 585.6L666.5 582.8L772.5 566.8L787.7 564.2L814.2 558.8L825.6 556.8L934.5 540.3L963.9 536.2L1015.4 530.1L1066.9 524.7L1140.5 517.5L1287.6 504.5L1464.2 488.2"/>
<path stroke="#FF0080" d="M182.6 599.1L1464.2 520.8" stroke-width="6" shape-rendering="geometricPrecision"/><path stroke="#FF0080" d="M182.6 599.1L1464.2 520.8"/>
<path stroke="#910000" d="M182.6 590.1L1464.2 530.5" stroke-width="6" shape-rendering="geometricPrecision"/><path stroke="#910000" d="M182.6 590.1L1464.2 530.5"/>
</g>
<g font-family="'Liberation Serif',serif" font-size="45" fill="#000">
<text transform="translate(138.5 1053.3) scale(0.97 1.07)" text-anchor="end">-80</text>
<text transform="translate(138.5 933.8) scale(0.97 1.07)" text-anchor="end">-60</text>
<text transform="translate(138.5 814.2) scale(0.97 1.07)" text-anchor="end">-40</text>
<text transform="translate(138.5 694.7) scale(0.97 1.07)" text-anchor="end">-20</text>
<text transform="translate(138.5 575.2) scale(0.97 1.07)" text-anchor="end">0</text>
<text transform="translate(138.5 455.7) scale(0.97 1.07)" text-anchor="end">20</text>
<text transform="translate(138.5 336.2) scale(0.97 1.07)" text-anchor="end">40</text>
<text transform="translate(138.5 216.6) scale(0.97 1.07)" text-anchor="end">60</text>
<text transform="translate(138.5 97.1) scale(0.97 1.07)" text-anchor="end">80</text>
<text transform="translate(154.4 1157.6) scale(0.97 1.07)" text-anchor="middle">-4</text>
<text transform="translate(316.3 1157.6) scale(0.97 1.07)" text-anchor="middle">-3</text>
<text transform="translate(478.2 1157.6) scale(0.97 1.07)" text-anchor="middle">-2</text>
<text transform="translate(640.1 1157.6) scale(0.97 1.07)" text-anchor="middle">-1</text>
<text transform="translate(802.0 1157.6) scale(0.97 1.07)" text-anchor="middle">0</text>
<text transform="translate(963.9 1157.6) scale(0.97 1.07)" text-anchor="middle">1</text>
<text transform="translate(1125.8 1157.6) scale(0.97 1.07)" text-anchor="middle">2</text>
<text transform="translate(1287.7 1157.6) scale(0.97 1.07)" text-anchor="middle">3</text>
<text transform="translate(1449.6 1157.6) scale(0.97 1.07)" text-anchor="middle">4</text>
</g>
<g font-family="'Liberation Serif',serif" fill="#000">
<text x="709" y="1234" font-size="61">μ<tspan font-size="40.5" dy="15.5">0</tspan><tspan dy="-15.5" dx="-2">H</tspan><tspan dx="3"> (T)</tspan></text>
<text transform="translate(57.6 561.6) rotate(-90)" font-size="60.5" text-anchor="middle">M (emu/g)</text>
</g>
<g font-family="'Liberation Serif',serif" fill="#000" font-size="46.1">
<text x="1462.5" y="221.8">Co<tspan font-size="30.4" dy="13.2">1-<tspan font-style="italic">x</tspan></tspan><tspan dy="-13.2">Zn</tspan><tspan font-size="30.4" dy="13.2" font-style="italic">x</tspan><tspan dy="-13.2">Fe</tspan><tspan font-size="30.4" dy="13.2">2</tspan><tspan dy="-13.2">O</tspan><tspan font-size="30.4" dy="13.2">4</tspan></text>
<line x1="1462.4" x2="1565.8" y1="273.8" y2="273.8" stroke="#000000" stroke-width="6.7" stroke-linecap="round"/>
<text transform="translate(1589 288.7) scale(1 1.05)" font-size="45.3"><tspan font-style="italic">x</tspan>=0</text>
<line x1="1462.4" x2="1565.8" y1="330.6" y2="330.6" stroke="#B900CD" stroke-width="6.7" stroke-linecap="round"/>
<text transform="translate(1589 345.5) scale(1 1.05)" font-size="45.3"><tspan font-style="italic">x</tspan>=0.05</text>
<line x1="1462.4" x2="1565.8" y1="387.4" y2="387.4" stroke="#7D00E1" stroke-width="6.7" stroke-linecap="round"/>
<text transform="translate(1589 402.3) scale(1 1.05)" font-size="45.3"><tspan font-style="italic">x</tspan>=0.1</text>
<line x1="1462.4" x2="1565.8" y1="444.2" y2="444.2" stroke="#0032FF" stroke-width="6.7" stroke-linecap="round"/>
<text transform="translate(1589 459.1) scale(1 1.05)" font-size="45.3"><tspan font-style="italic">x</tspan>=0.2</text>
<line x1="1462.4" x2="1565.8" y1="501.0" y2="501.0" stroke="#00A0FF" stroke-width="6.7" stroke-linecap="round"/>
<text transform="translate(1589 515.9) scale(1 1.05)" font-size="45.3"><tspan font-style="italic">x</tspan>=0.3</text>
<line x1="1462.4" x2="1565.8" y1="557.8" y2="557.8" stroke="#00C8C8" stroke-width="6.7" stroke-linecap="round"/>
<text transform="translate(1589 572.7) scale(1 1.05)" font-size="45.3"><tspan font-style="italic">x</tspan>=0.4</text>
<line x1="1462.4" x2="1565.8" y1="614.6" y2="614.6" stroke="#008C00" stroke-width="6.7" stroke-linecap="round"/>
<text transform="translate(1589 629.5) scale(1 1.05)" font-size="45.3"><tspan font-style="italic">x</tspan>=0.5</text>
<line x1="1462.4" x2="1565.8" y1="671.4" y2="671.4" stroke="#AAA000" stroke-width="6.7" stroke-linecap="round"/>
<text transform="translate(1589 686.3) scale(1 1.05)" font-size="45.3"><tspan font-style="italic">x</tspan>=0.6</text>
<line x1="1462.4" x2="1565.8" y1="728.2" y2="728.2" stroke="#FF8014" stroke-width="6.7" stroke-linecap="round"/>
<text transform="translate(1589 743.1) scale(1 1.05)" font-size="45.3"><tspan font-style="italic">x</tspan>=0.7</text>
<line x1="1462.4" x2="1565.8" y1="785.0" y2="785.0" stroke="#FF3237" stroke-width="6.7" stroke-linecap="round"/>
<text transform="translate(1589 799.9) scale(1 1.05)" font-size="45.3"><tspan font-style="italic">x</tspan>=0.8</text>
<line x1="1462.4" x2="1565.8" y1="841.8" y2="841.8" stroke="#FF0080" stroke-width="6.7" stroke-linecap="round"/>
<text transform="translate(1589 856.7) scale(1 1.05)" font-size="45.3"><tspan font-style="italic">x</tspan>=0.9</text>
<line x1="1462.4" x2="1565.8" y1="898.6" y2="898.6" stroke="#910000" stroke-width="6.7" stroke-linecap="round"/>
<text transform="translate(1589 913.5) scale(1 1.05)" font-size="45.3"><tspan font-style="italic">x</tspan>=1</text>
</g>
<rect x="910.1" y="583.3" width="503.9" height="429.8" fill="#fff"/>
<g fill="none" shape-rendering="crispEdges">
<path d="M1036.1 583.3V1013.1M1162.0 583.3V1013.1M1288.0 583.3V1013.1M910.1 970.2H1414.0M910.1 884.2H1414.0M910.1 798.2H1414.0M910.1 712.2H1414.0M910.1 626.2H1414.0" stroke="#969696" stroke-width="1.3" stroke-dasharray="2.2 2.2"/>
<path d="M973.1 583.3V1013.1M1099.1 583.3V1013.1M1225.0 583.3V1013.1M1351.0 583.3V1013.1" stroke="#c8c8c8" stroke-width="1" stroke-dasharray="5 1.5 1.5 1.5"/>
</g>
<g stroke="#000" fill="none" shape-rendering="crispEdges">
<rect x="910.1" y="583.3" width="503.9" height="429.8" stroke-width="2.2"/>
<path d="M973.1 583.3v5.0M973.1 1013.1v-5.0M1036.1 583.3v9.0M1036.1 1013.1v-9.0M1099.1 583.3v5.0M1099.1 1013.1v-5.0M1162.0 583.3v9.0M1162.0 1013.1v-9.0M1225.0 583.3v5.0M1225.0 1013.1v-5.0M1288.0 583.3v9.0M1288.0 1013.1v-9.0M1351.0 583.3v5.0M1351.0 1013.1v-5.0M910.1 970.2h9.0M1414.0 970.2h-9.0M910.1 927.2h5.0M1414.0 927.2h-5.0M910.1 884.2h9.0M1414.0 884.2h-9.0M910.1 841.2h5.0M1414.0 841.2h-5.0M910.1 798.2h9.0M1414.0 798.2h-9.0M910.1 755.2h5.0M1414.0 755.2h-5.0M910.1 712.2h9.0M1414.0 712.2h-9.0M910.1 669.2h5.0M1414.0 669.2h-5.0M910.1 626.2h9.0M1414.0 626.2h-9.0" stroke-width="2.9"/>
</g>
<g fill="none" stroke-width="6.4" stroke-linecap="round" stroke-linejoin="round" clip-path="url(#ci)" shape-rendering="crispEdges">
<path stroke="#000000" d="M884.6 995.9L897.4 991.0L910.1 985.6L974.5 962.3L1006.1 950.2L1026.3 942.7L1037.7 938.1L1046.5 934.0L1060.4 927.0L1074.3 919.5L1079.3 916.9L1084.4 914.6L1092.0 911.8L1099.5 908.7L1103.3 907.0L1107.1 905.1L1110.9 902.8L1114.7 900.0L1118.5 896.6L1123.5 891.2L1127.3 886.3L1129.8 882.1L1131.1 879.5L1132.4 876.1L1133.6 871.8L1136.2 861.4L1142.5 825.1L1145.0 809.3L1147.5 791.1L1151.3 766.0L1155.1 738.1L1157.6 721.6L1160.2 708.2L1162.7 697.4L1165.2 688.7L1167.7 681.4L1170.3 675.3L1171.5 672.8L1174.0 668.5L1177.8 663.2L1181.6 659.3L1185.4 656.2L1195.5 649.5L1203.1 645.0L1210.7 641.2L1219.5 637.5L1238.4 630.0L1254.9 624.1L1272.5 618.2L1305.4 607.9L1315.5 605.0L1324.3 602.7L1335.7 600.0L1352.1 596.3L1383.7 589.8L1414.0 583.2L1426.7 580.7L1439.5 578.7M884.6 1016.9L897.4 1014.9L910.1 1013.2L936.6 1007.4L968.2 1000.9L987.2 996.7L1003.6 992.8L1017.5 988.9L1050.3 978.6L1068.0 972.7L1085.7 966.4L1104.6 958.9L1113.4 955.2L1121.0 951.4L1128.6 946.9L1138.7 940.2L1142.5 937.1L1146.3 933.2L1150.1 927.9L1152.6 923.6L1153.8 921.1L1156.4 915.0L1158.9 907.7L1161.4 899.0L1163.9 888.2L1166.5 874.8L1169.0 858.3L1172.8 830.4L1176.6 805.3L1179.1 787.1L1181.6 771.3L1187.9 735.0L1190.5 724.6L1191.7 720.3L1193.0 716.9L1194.3 714.3L1196.8 710.1L1200.6 705.2L1205.6 699.8L1209.4 696.4L1213.2 693.6L1217.0 691.3L1220.8 689.4L1224.6 687.7L1232.1 684.6L1239.7 681.8L1244.8 679.5L1249.8 676.9L1263.7 669.4L1278.9 661.8L1287.7 657.8L1297.8 653.7L1318.0 646.2L1349.6 634.1L1426.7 606.2L1439.5 601.3" stroke-width="5.6" shape-rendering="geometricPrecision"/><path stroke="#000000" d="M884.6 995.9L897.4 991.0L910.1 985.6L974.5 962.3L1006.1 950.2L1026.3 942.7L1037.7 938.1L1046.5 934.0L1060.4 927.0L1074.3 919.5L1079.3 916.9L1084.4 914.6L1092.0 911.8L1099.5 908.7L1103.3 907.0L1107.1 905.1L1110.9 902.8L1114.7 900.0L1118.5 896.6L1123.5 891.2L1127.3 886.3L1129.8 882.1L1131.1 879.5L1132.4 876.1L1133.6 871.8L1136.2 861.4L1142.5 825.1L1145.0 809.3L1147.5 791.1L1151.3 766.0L1155.1 738.1L1157.6 721.6L1160.2 708.2L1162.7 697.4L1165.2 688.7L1167.7 681.4L1170.3 675.3L1171.5 672.8L1174.0 668.5L1177.8 663.2L1181.6 659.3L1185.4 656.2L1195.5 649.5L1203.1 645.0L1210.7 641.2L1219.5 637.5L1238.4 630.0L1254.9 624.1L1272.5 618.2L1305.4 607.9L1315.5 605.0L1324.3 602.7L1335.7 600.0L1352.1 596.3L1383.7 589.8L1414.0 583.2L1426.7 580.7L1439.5 578.7M884.6 1016.9L897.4 1014.9L910.1 1013.2L936.6 1007.4L968.2 1000.9L987.2 996.7L1003.6 992.8L1017.5 988.9L1050.3 978.6L1068.0 972.7L1085.7 966.4L1104.6 958.9L1113.4 955.2L1121.0 951.4L1128.6 946.9L1138.7 940.2L1142.5 937.1L1146.3 933.2L1150.1 927.9L1152.6 923.6L1153.8 921.1L1156.4 915.0L1158.9 907.7L1161.4 899.0L1163.9 888.2L1166.5 874.8L1169.0 858.3L1172.8 830.4L1176.6 805.3L1179.1 787.1L1181.6 771.3L1187.9 735.0L1190.5 724.6L1191.7 720.3L1193.0 716.9L1194.3 714.3L1196.8 710.1L1200.6 705.2L1205.6 699.8L1209.4 696.4L1213.2 693.6L1217.0 691.3L1220.8 689.4L1224.6 687.7L1232.1 684.6L1239.7 681.8L1244.8 679.5L1249.8 676.9L1263.7 669.4L1278.9 661.8L1287.7 657.8L1297.8 653.7L1318.0 646.2L1349.6 634.1L1426.7 606.2L1439.5 601.3"/>
<path stroke="#7D00E1" d="M884.6 1025.2L897.4 1019.3L910.1 1013.2L916.4 1009.7L941.7 995.4L949.3 990.7L958.1 984.9L965.7 979.5L974.5 972.9L982.1 967.0L989.7 960.6L997.3 953.9L1004.8 946.8L1009.9 941.6L1014.9 936.1L1018.7 931.4L1023.8 924.6L1030.1 915.5L1040.2 900.3L1047.8 888.4L1081.9 833.5L1093.2 816.2L1097.0 810.0L1100.8 803.1L1105.9 792.4L1113.4 775.2L1122.3 753.9L1128.6 740.2L1134.9 727.9L1140.0 719.1L1143.7 713.0L1147.5 707.5L1152.6 701.2L1157.6 695.5L1165.2 687.4L1171.5 681.0L1180.4 672.5L1194.3 659.5L1201.8 652.8L1208.1 647.6L1215.7 642.0L1223.3 636.7L1232.1 631.0L1251.1 619.9L1271.3 607.6L1283.9 600.7L1292.7 596.5L1300.3 593.5L1310.4 590.3L1320.5 587.3L1336.9 583.2L1343.3 581.3L1350.8 578.7L1369.8 571.7L1377.4 569.1L1439.5 549.2M884.6 1047.2L946.7 1027.3L954.3 1024.7L973.3 1017.7L980.8 1015.1L987.2 1013.2L1003.6 1009.1L1013.7 1006.1L1023.8 1002.9L1031.4 999.9L1040.2 995.7L1052.8 988.8L1073.0 976.5L1092.0 965.4L1100.8 959.7L1108.4 954.4L1116.0 948.8L1122.3 943.6L1129.8 936.9L1143.7 923.9L1152.6 915.4L1158.9 909.0L1166.5 900.9L1171.5 895.2L1176.6 888.9L1180.4 883.4L1184.1 877.3L1189.2 868.5L1193.0 861.3L1196.8 853.5L1201.8 842.5L1210.7 821.2L1218.2 804.0L1222.0 795.9L1225.8 788.6L1229.6 782.2L1241.0 764.9L1263.7 728.3L1268.8 719.6L1281.4 696.7L1286.4 688.2L1291.5 680.7L1297.8 672.8L1302.8 667.2L1307.9 661.9L1335.7 634.2L1348.3 620.6L1353.4 616.1L1359.7 611.2L1366.0 606.9L1372.3 603.0L1379.9 598.7L1388.7 594.0L1401.3 588.0L1414.0 582.8L1426.7 576.7L1439.5 570.9" stroke-width="5.6" shape-rendering="geometricPrecision"/><path stroke="#7D00E1" d="M884.6 1025.2L897.4 1019.3L910.1 1013.2L916.4 1009.7L941.7 995.4L949.3 990.7L958.1 984.9L965.7 979.5L974.5 972.9L982.1 967.0L989.7 960.6L997.3 953.9L1004.8 946.8L1009.9 941.6L1014.9 936.1L1018.7 931.4L1023.8 924.6L1030.1 915.5L1040.2 900.3L1047.8 888.4L1081.9 833.5L1093.2 816.2L1097.0 810.0L1100.8 803.1L1105.9 792.4L1113.4 775.2L1122.3 753.9L1128.6 740.2L1134.9 727.9L1140.0 719.1L1143.7 713.0L1147.5 707.5L1152.6 701.2L1157.6 695.5L1165.2 687.4L1171.5 681.0L1180.4 672.5L1194.3 659.5L1201.8 652.8L1208.1 647.6L1215.7 642.0L1223.3 636.7L1232.1 631.0L1251.1 619.9L1271.3 607.6L1283.9 600.7L1292.7 596.5L1300.3 593.5L1310.4 590.3L1320.5 587.3L1336.9 583.2L1343.3 581.3L1350.8 578.7L1369.8 571.7L1377.4 569.1L1439.5 549.2M884.6 1047.2L946.7 1027.3L954.3 1024.7L973.3 1017.7L980.8 1015.1L987.2 1013.2L1003.6 1009.1L1013.7 1006.1L1023.8 1002.9L1031.4 999.9L1040.2 995.7L1052.8 988.8L1073.0 976.5L1092.0 965.4L1100.8 959.7L1108.4 954.4L1116.0 948.8L1122.3 943.6L1129.8 936.9L1143.7 923.9L1152.6 915.4L1158.9 909.0L1166.5 900.9L1171.5 895.2L1176.6 888.9L1180.4 883.4L1184.1 877.3L1189.2 868.5L1193.0 861.3L1196.8 853.5L1201.8 842.5L1210.7 821.2L1218.2 804.0L1222.0 795.9L1225.8 788.6L1229.6 782.2L1241.0 764.9L1263.7 728.3L1268.8 719.6L1281.4 696.7L1286.4 688.2L1291.5 680.7L1297.8 672.8L1302.8 667.2L1307.9 661.9L1335.7 634.2L1348.3 620.6L1353.4 616.1L1359.7 611.2L1366.0 606.9L1372.3 603.0L1379.9 598.7L1388.7 594.0L1401.3 588.0L1414.0 582.8L1426.7 576.7L1439.5 570.9"/>
<path stroke="#0032FF" d="M884.6 1054.5L897.4 1050.0L910.1 1045.4L917.7 1043.9L926.5 1041.9L943.0 1037.6L956.9 1033.4L975.8 1027.3L990.9 1022.6L997.3 1020.3L1003.6 1017.3L1007.4 1015.1L1009.9 1013.4L1011.2 1012.5L1012.4 1011.3L1014.9 1007.8L1020.0 999.8L1038.9 973.2L1044.0 966.3L1051.6 956.6L1054.1 953.0L1056.6 948.9L1059.1 944.3L1064.2 933.8L1068.0 925.2L1070.5 918.9L1076.8 902.0L1080.6 891.2L1090.7 860.6L1099.5 834.9L1104.6 821.2L1113.4 800.1L1116.0 793.0L1122.3 773.5L1128.6 755.5L1131.1 749.1L1133.6 743.5L1138.7 733.5L1145.0 722.6L1150.1 714.9L1155.1 708.1L1163.9 697.5L1170.3 690.2L1175.3 684.7L1185.4 674.6L1199.3 660.3L1205.6 654.1L1211.9 648.4L1225.8 636.7L1249.8 615.6L1257.4 609.4L1270.0 600.2L1294.0 583.8L1297.8 581.5L1305.4 577.3L1318.0 571.1L1331.9 564.9L1347.0 558.9L1364.7 552.5L1378.6 547.9L1391.2 544.0L1402.6 540.9L1414.0 538.1L1439.5 530.9M884.6 1065.5L910.1 1058.3L921.5 1055.6L934.1 1052.1L949.3 1047.4L964.4 1042.1L979.6 1036.5L993.5 1030.6L1008.6 1023.4L1023.8 1015.5L1033.9 1009.8L1044.0 1003.0L1051.6 997.4L1073.0 980.7L1084.4 971.3L1104.6 952.8L1118.5 940.8L1124.8 935.1L1131.1 928.8L1138.7 920.5L1146.3 911.7L1153.8 902.2L1158.9 895.3L1162.7 889.6L1166.5 883.3L1170.3 876.3L1181.6 854.3L1195.5 825.5L1199.3 817.1L1201.8 811.0L1205.6 800.4L1208.1 794.2L1210.7 789.0L1217.0 777.0L1219.5 771.7L1259.9 682.6L1270.0 660.9L1276.3 648.7L1289.0 626.7L1296.5 612.7L1299.1 608.6L1301.6 605.2L1304.1 602.2L1306.6 599.5L1309.2 597.0L1312.9 593.9L1316.7 591.2L1320.5 588.8L1324.3 586.8L1328.1 584.9L1357.1 572.3L1381.1 562.6L1397.6 556.5L1414.0 551.0L1426.7 546.4L1439.5 541.9" stroke-width="5.6" shape-rendering="geometricPrecision"/><path stroke="#0032FF" d="M884.6 1054.5L897.4 1050.0L910.1 1045.4L917.7 1043.9L926.5 1041.9L943.0 1037.6L956.9 1033.4L975.8 1027.3L990.9 1022.6L997.3 1020.3L1003.6 1017.3L1007.4 1015.1L1009.9 1013.4L1011.2 1012.5L1012.4 1011.3L1014.9 1007.8L1020.0 999.8L1038.9 973.2L1044.0 966.3L1051.6 956.6L1054.1 953.0L1056.6 948.9L1059.1 944.3L1064.2 933.8L1068.0 925.2L1070.5 918.9L1076.8 902.0L1080.6 891.2L1090.7 860.6L1099.5 834.9L1104.6 821.2L1113.4 800.1L1116.0 793.0L1122.3 773.5L1128.6 755.5L1131.1 749.1L1133.6 743.5L1138.7 733.5L1145.0 722.6L1150.1 714.9L1155.1 708.1L1163.9 697.5L1170.3 690.2L1175.3 684.7L1185.4 674.6L1199.3 660.3L1205.6 654.1L1211.9 648.4L1225.8 636.7L1249.8 615.6L1257.4 609.4L1270.0 600.2L1294.0 583.8L1297.8 581.5L1305.4 577.3L1318.0 571.1L1331.9 564.9L1347.0 558.9L1364.7 552.5L1378.6 547.9L1391.2 544.0L1402.6 540.9L1414.0 538.1L1439.5 530.9M884.6 1065.5L910.1 1058.3L921.5 1055.6L934.1 1052.1L949.3 1047.4L964.4 1042.1L979.6 1036.5L993.5 1030.6L1008.6 1023.4L1023.8 1015.5L1033.9 1009.8L1044.0 1003.0L1051.6 997.4L1073.0 980.7L1084.4 971.3L1104.6 952.8L1118.5 940.8L1124.8 935.1L1131.1 928.8L1138.7 920.5L1146.3 911.7L1153.8 902.2L1158.9 895.3L1162.7 889.6L1166.5 883.3L1170.3 876.3L1181.6 854.3L1195.5 825.5L1199.3 817.1L1201.8 811.0L1205.6 800.4L1208.1 794.2L1210.7 789.0L1217.0 777.0L1219.5 771.7L1259.9 682.6L1270.0 660.9L1276.3 648.7L1289.0 626.7L1296.5 612.7L1299.1 608.6L1301.6 605.2L1304.1 602.2L1306.6 599.5L1309.2 597.0L1312.9 593.9L1316.7 591.2L1320.5 588.8L1324.3 586.8L1328.1 584.9L1357.1 572.3L1381.1 562.6L1397.6 556.5L1414.0 551.0L1426.7 546.4L1439.5 541.9"/>
<path stroke="#00A0FF" d="M884.6 1054.0L910.1 1047.5L920.2 1045.9L930.3 1043.7L937.9 1041.8L946.7 1039.2L960.6 1034.7L977.1 1028.9L987.2 1024.6L996.0 1020.2L1004.8 1015.2L1009.9 1012.1L1012.4 1010.3L1018.7 1005.2L1028.8 996.1L1033.9 991.0L1038.9 985.4L1057.9 961.7L1062.9 955.0L1069.2 946.2L1073.0 940.6L1076.8 934.6L1080.6 928.0L1084.4 920.8L1088.2 912.7L1090.7 906.6L1094.5 896.1L1104.6 866.1L1108.4 853.8L1114.7 831.3L1121.0 810.2L1124.8 798.3L1131.1 780.3L1138.7 755.6L1142.5 744.6L1146.3 734.5L1150.1 725.3L1153.8 716.9L1157.6 709.8L1171.5 687.6L1191.7 656.6L1195.5 651.1L1200.6 644.7L1210.7 633.2L1217.0 626.4L1223.3 620.3L1235.9 609.1L1246.0 600.7L1251.1 596.9L1257.4 592.9L1263.7 589.4L1276.3 583.3L1280.1 581.8L1294.0 576.7L1310.4 571.4L1325.6 566.9L1368.5 554.6L1391.2 548.3L1414.0 542.4L1439.5 536.9M884.6 1059.5L910.1 1054.0L945.4 1044.6L1015.0 1025.0L1029.3 1020.6L1041.7 1016.4L1049.3 1013.5L1054.1 1011.5L1063.6 1006.5L1069.3 1003.1L1074.1 999.7L1081.7 993.3L1090.3 986.8L1095.1 982.7L1099.9 978.0L1105.6 971.8L1115.1 960.2L1124.6 949.2L1128.5 944.3L1145.6 919.7L1151.3 911.0L1156.1 903.2L1159.9 896.6L1163.7 889.6L1166.6 884.0L1175.2 866.1L1181.8 851.2L1188.5 834.9L1194.2 819.5L1200.9 799.4L1227.6 710.5L1234.3 690.5L1239.0 677.4L1241.9 670.1L1243.8 665.7L1246.7 659.9L1255.3 645.0L1261.0 633.8L1262.9 630.8L1264.8 628.2L1267.6 624.7L1276.2 615.7L1282.9 608.0L1285.8 604.5L1287.7 601.7L1290.5 596.6L1287.4 594.9L1292.5 594.6L1297.6 594.1L1306.6 592.5L1310.4 591.4L1321.9 587.6L1336.0 584.0L1347.5 580.3L1356.4 577.0L1365.4 573.5L1374.3 569.7L1382.0 566.2L1391.0 561.8L1398.6 557.7L1406.3 553.4L1414.0 548.9L1439.5 542.4" stroke-width="5.6" shape-rendering="geometricPrecision"/><path stroke="#00A0FF" d="M884.6 1054.0L910.1 1047.5L920.2 1045.9L930.3 1043.7L937.9 1041.8L946.7 1039.2L960.6 1034.7L977.1 1028.9L987.2 1024.6L996.0 1020.2L1004.8 1015.2L1009.9 1012.1L1012.4 1010.3L1018.7 1005.2L1028.8 996.1L1033.9 991.0L1038.9 985.4L1057.9 961.7L1062.9 955.0L1069.2 946.2L1073.0 940.6L1076.8 934.6L1080.6 928.0L1084.4 920.8L1088.2 912.7L1090.7 906.6L1094.5 896.1L1104.6 866.1L1108.4 853.8L1114.7 831.3L1121.0 810.2L1124.8 798.3L1131.1 780.3L1138.7 755.6L1142.5 744.6L1146.3 734.5L1150.1 725.3L1153.8 716.9L1157.6 709.8L1171.5 687.6L1191.7 656.6L1195.5 651.1L1200.6 644.7L1210.7 633.2L1217.0 626.4L1223.3 620.3L1235.9 609.1L1246.0 600.7L1251.1 596.9L1257.4 592.9L1263.7 589.4L1276.3 583.3L1280.1 581.8L1294.0 576.7L1310.4 571.4L1325.6 566.9L1368.5 554.6L1391.2 548.3L1414.0 542.4L1439.5 536.9M884.6 1059.5L910.1 1054.0L945.4 1044.6L1015.0 1025.0L1029.3 1020.6L1041.7 1016.4L1049.3 1013.5L1054.1 1011.5L1063.6 1006.5L1069.3 1003.1L1074.1 999.7L1081.7 993.3L1090.3 986.8L1095.1 982.7L1099.9 978.0L1105.6 971.8L1115.1 960.2L1124.6 949.2L1128.5 944.3L1145.6 919.7L1151.3 911.0L1156.1 903.2L1159.9 896.6L1163.7 889.6L1166.6 884.0L1175.2 866.1L1181.8 851.2L1188.5 834.9L1194.2 819.5L1200.9 799.4L1227.6 710.5L1234.3 690.5L1239.0 677.4L1241.9 670.1L1243.8 665.7L1246.7 659.9L1255.3 645.0L1261.0 633.8L1262.9 630.8L1264.8 628.2L1267.6 624.7L1276.2 615.7L1282.9 608.0L1285.8 604.5L1287.7 601.7L1290.5 596.6L1287.4 594.9L1292.5 594.6L1297.6 594.1L1306.6 592.5L1310.4 591.4L1321.9 587.6L1336.0 584.0L1347.5 580.3L1356.4 577.0L1365.4 573.5L1374.3 569.7L1382.0 566.2L1391.0 561.8L1398.6 557.7L1406.3 553.4L1414.0 548.9L1439.5 542.4"/>
<path stroke="#00C8C8" d="M884.6 1020.5L910.1 1015.3L924.0 1013.1L940.4 1010.2L950.5 1008.1L959.4 1006.0L969.5 1003.3L977.1 1001.0L1009.9 989.1L1017.5 985.8L1023.8 982.4L1030.1 978.5L1037.7 973.2L1042.7 969.3L1047.8 964.8L1054.1 958.8L1064.2 948.8L1069.2 943.6L1074.3 938.1L1079.3 932.1L1083.1 927.2L1086.9 921.9L1090.7 916.1L1095.8 907.6L1099.5 900.7L1102.1 895.6L1105.9 887.2L1116.0 862.8L1127.3 838.7L1137.4 816.2L1141.2 808.4L1146.3 799.3L1148.8 794.1L1151.3 787.5L1156.4 772.9L1165.2 749.8L1167.7 744.0L1171.5 737.2L1175.3 732.1L1181.6 724.9L1190.5 715.8L1196.8 709.6L1204.4 702.4L1208.1 698.4L1235.9 664.7L1241.0 658.9L1261.2 638.5L1267.5 632.6L1272.5 628.2L1278.9 623.6L1286.4 618.6L1296.5 612.5L1305.4 607.7L1312.9 604.0L1321.8 600.2L1331.9 596.3L1342.0 592.8L1348.3 590.9L1354.6 589.2L1362.2 587.3L1369.8 585.7L1377.4 584.3L1391.2 582.2L1401.3 580.4L1439.5 573.3M884.6 1022.4L922.8 1015.0L953.1 1008.5L964.4 1005.8L974.5 1003.3L983.4 1000.8L992.2 998.0L999.8 995.4L1007.4 992.5L1013.7 989.7L1018.7 987.2L1023.8 984.3L1036.4 976.1L1045.2 970.8L1050.3 967.2L1071.8 948.0L1103.3 916.2L1105.9 913.4L1113.4 904.1L1116.0 901.3L1119.7 897.4L1134.9 882.7L1140.0 877.3L1155.1 858.6L1157.6 855.3L1160.2 851.6L1162.7 847.4L1165.2 842.3L1171.5 827.1L1186.7 785.0L1198.0 752.4L1200.6 745.9L1214.5 712.1L1219.5 700.8L1223.3 692.8L1227.1 685.6L1229.6 681.2L1233.4 675.4L1238.4 668.5L1244.8 660.4L1249.8 654.4L1253.6 650.5L1262.4 642.0L1271.3 632.8L1273.8 630.6L1277.6 627.8L1299.1 613.7L1304.1 610.6L1312.9 606.0L1323.1 601.5L1330.6 598.5L1339.5 595.6L1347.0 593.3L1354.6 591.4L1386.2 585.1L1414.0 579.8L1439.5 574.8" stroke-width="5.6" shape-rendering="geometricPrecision"/><path stroke="#00C8C8" d="M884.6 1020.5L910.1 1015.3L924.0 1013.1L940.4 1010.2L950.5 1008.1L959.4 1006.0L969.5 1003.3L977.1 1001.0L1009.9 989.1L1017.5 985.8L1023.8 982.4L1030.1 978.5L1037.7 973.2L1042.7 969.3L1047.8 964.8L1054.1 958.8L1064.2 948.8L1069.2 943.6L1074.3 938.1L1079.3 932.1L1083.1 927.2L1086.9 921.9L1090.7 916.1L1095.8 907.6L1099.5 900.7L1102.1 895.6L1105.9 887.2L1116.0 862.8L1127.3 838.7L1137.4 816.2L1141.2 808.4L1146.3 799.3L1148.8 794.1L1151.3 787.5L1156.4 772.9L1165.2 749.8L1167.7 744.0L1171.5 737.2L1175.3 732.1L1181.6 724.9L1190.5 715.8L1196.8 709.6L1204.4 702.4L1208.1 698.4L1235.9 664.7L1241.0 658.9L1261.2 638.5L1267.5 632.6L1272.5 628.2L1278.9 623.6L1286.4 618.6L1296.5 612.5L1305.4 607.7L1312.9 604.0L1321.8 600.2L1331.9 596.3L1342.0 592.8L1348.3 590.9L1354.6 589.2L1362.2 587.3L1369.8 585.7L1377.4 584.3L1391.2 582.2L1401.3 580.4L1439.5 573.3M884.6 1022.4L922.8 1015.0L953.1 1008.5L964.4 1005.8L974.5 1003.3L983.4 1000.8L992.2 998.0L999.8 995.4L1007.4 992.5L1013.7 989.7L1018.7 987.2L1023.8 984.3L1036.4 976.1L1045.2 970.8L1050.3 967.2L1071.8 948.0L1103.3 916.2L1105.9 913.4L1113.4 904.1L1116.0 901.3L1119.7 897.4L1134.9 882.7L1140.0 877.3L1155.1 858.6L1157.6 855.3L1160.2 851.6L1162.7 847.4L1165.2 842.3L1171.5 827.1L1186.7 785.0L1198.0 752.4L1200.6 745.9L1214.5 712.1L1219.5 700.8L1223.3 692.8L1227.1 685.6L1229.6 681.2L1233.4 675.4L1238.4 668.5L1244.8 660.4L1249.8 654.4L1253.6 650.5L1262.4 642.0L1271.3 632.8L1273.8 630.6L1277.6 627.8L1299.1 613.7L1304.1 610.6L1312.9 606.0L1323.1 601.5L1330.6 598.5L1339.5 595.6L1347.0 593.3L1354.6 591.4L1386.2 585.1L1414.0 579.8L1439.5 574.8"/>
<path stroke="#008C00" d="M884.6 998.4L910.1 994.2L919.0 991.6L926.5 989.5L970.7 979.4L993.5 973.1L1026.3 965.1L1030.1 964.1L1033.9 962.8L1036.4 961.9L1038.9 960.5L1041.5 958.7L1049.0 952.7L1070.5 937.9L1079.3 930.9L1085.7 925.4L1089.4 921.8L1093.2 917.8L1097.0 912.9L1102.1 905.4L1107.1 897.3L1110.9 890.6L1114.7 883.3L1118.5 875.4L1121.0 869.4L1123.5 862.5L1124.8 858.5L1136.2 818.4L1140.0 804.4L1150.1 764.7L1152.6 755.8L1155.1 748.5L1157.6 742.2L1160.2 736.7L1162.7 731.6L1165.2 727.1L1169.0 721.0L1172.8 715.3L1176.6 710.1L1189.2 694.2L1201.8 679.5L1209.4 671.4L1217.0 664.1L1220.8 660.8L1229.6 653.7L1235.9 648.3L1238.4 646.3L1242.2 643.9L1247.3 641.4L1253.6 638.5L1272.5 630.4L1276.3 629.1L1289.0 625.1L1306.6 618.6L1318.0 615.0L1326.8 612.6L1335.7 610.5L1345.8 608.3L1357.1 606.2L1369.8 604.1L1391.2 601.0L1414.0 598.3L1439.5 594.6M884.6 1002.9L910.1 999.4L960.6 989.2L977.1 985.6L994.7 981.6L1020.0 975.4L1032.6 972.1L1038.9 970.1L1046.5 967.4L1073.0 957.0L1080.6 953.7L1085.7 951.1L1098.3 943.5L1103.3 940.3L1107.1 937.7L1112.2 933.8L1116.0 930.6L1119.7 927.1L1123.5 923.3L1127.3 919.3L1131.1 914.8L1138.7 905.1L1145.0 896.3L1151.3 886.3L1157.6 875.0L1166.5 858.0L1170.3 849.9L1172.8 843.8L1176.6 833.4L1180.4 821.8L1191.7 782.4L1198.0 757.0L1203.1 738.5L1206.9 726.2L1210.7 715.9L1213.2 709.7L1217.0 701.4L1220.8 693.9L1224.6 687.2L1229.6 679.2L1233.4 673.9L1237.2 669.3L1241.0 665.2L1244.8 661.6L1249.8 657.4L1262.4 648.5L1268.8 643.8L1272.5 641.3L1278.9 638.2L1299.1 629.7L1305.4 627.2L1312.9 624.6L1323.1 621.4L1331.9 619.1L1371.0 610.9L1395.0 606.1L1439.5 598.7M1162.0 794.8L1165.7 794.3L1170.2 793.0L1173.0 791.9L1175.7 790.1L1179.3 787.0L1182.1 784.1L1184.8 780.4L1187.5 776.1L1190.2 770.9L1193.0 765.1L1195.7 758.9L1198.4 752.1L1201.2 744.9L1208.4 723.8L1215.7 704.1" stroke-width="5.6" shape-rendering="geometricPrecision"/><path stroke="#008C00" d="M884.6 998.4L910.1 994.2L919.0 991.6L926.5 989.5L970.7 979.4L993.5 973.1L1026.3 965.1L1030.1 964.1L1033.9 962.8L1036.4 961.9L1038.9 960.5L1041.5 958.7L1049.0 952.7L1070.5 937.9L1079.3 930.9L1085.7 925.4L1089.4 921.8L1093.2 917.8L1097.0 912.9L1102.1 905.4L1107.1 897.3L1110.9 890.6L1114.7 883.3L1118.5 875.4L1121.0 869.4L1123.5 862.5L1124.8 858.5L1136.2 818.4L1140.0 804.4L1150.1 764.7L1152.6 755.8L1155.1 748.5L1157.6 742.2L1160.2 736.7L1162.7 731.6L1165.2 727.1L1169.0 721.0L1172.8 715.3L1176.6 710.1L1189.2 694.2L1201.8 679.5L1209.4 671.4L1217.0 664.1L1220.8 660.8L1229.6 653.7L1235.9 648.3L1238.4 646.3L1242.2 643.9L1247.3 641.4L1253.6 638.5L1272.5 630.4L1276.3 629.1L1289.0 625.1L1306.6 618.6L1318.0 615.0L1326.8 612.6L1335.7 610.5L1345.8 608.3L1357.1 606.2L1369.8 604.1L1391.2 601.0L1414.0 598.3L1439.5 594.6M884.6 1002.9L910.1 999.4L960.6 989.2L977.1 985.6L994.7 981.6L1020.0 975.4L1032.6 972.1L1038.9 970.1L1046.5 967.4L1073.0 957.0L1080.6 953.7L1085.7 951.1L1098.3 943.5L1103.3 940.3L1107.1 937.7L1112.2 933.8L1116.0 930.6L1119.7 927.1L1123.5 923.3L1127.3 919.3L1131.1 914.8L1138.7 905.1L1145.0 896.3L1151.3 886.3L1157.6 875.0L1166.5 858.0L1170.3 849.9L1172.8 843.8L1176.6 833.4L1180.4 821.8L1191.7 782.4L1198.0 757.0L1203.1 738.5L1206.9 726.2L1210.7 715.9L1213.2 709.7L1217.0 701.4L1220.8 693.9L1224.6 687.2L1229.6 679.2L1233.4 673.9L1237.2 669.3L1241.0 665.2L1244.8 661.6L1249.8 657.4L1262.4 648.5L1268.8 643.8L1272.5 641.3L1278.9 638.2L1299.1 629.7L1305.4 627.2L1312.9 624.6L1323.1 621.4L1331.9 619.1L1371.0 610.9L1395.0 606.1L1439.5 598.7M1162.0 794.8L1165.7 794.3L1170.2 793.0L1173.0 791.9L1175.7 790.1L1179.3 787.0L1182.1 784.1L1184.8 780.4L1187.5 776.1L1190.2 770.9L1193.0 765.1L1195.7 758.9L1198.4 752.1L1201.2 744.9L1208.4 723.8L1215.7 704.1"/>
</g>
<g font-family="'Liberation Serif',serif" font-size="27" fill="#000">
<text x="902" y="978.4" text-anchor="end">-40</text>
<text x="902" y="892.4" text-anchor="end">-20</text>
<text x="902" y="806.4" text-anchor="end">0</text>
<text x="902" y="720.4" text-anchor="end">20</text>
<text x="902" y="634.4" text-anchor="end">40</text>
<text x="911.1" y="1041.8" text-anchor="middle">-0.2</text>
<text x="1037.1" y="1041.8" text-anchor="middle">-0.1</text>
<text x="1163.0" y="1041.8" text-anchor="middle">0.0</text>
<text x="1289.0" y="1041.8" text-anchor="middle">0.1</text>
<text x="1415.5" y="1041.8" text-anchor="middle">0.2</text>
<text x="1109" y="1078.9" font-size="35.3">μ<tspan font-size="23.5" dy="9.5">0</tspan><tspan dy="-9.5">H (T)</tspan></text>
<text transform="translate(862.9 798) rotate(-90)" font-size="34.8" text-anchor="middle">M (emu/g)</text>
</g>
</svg>
</body></html>
